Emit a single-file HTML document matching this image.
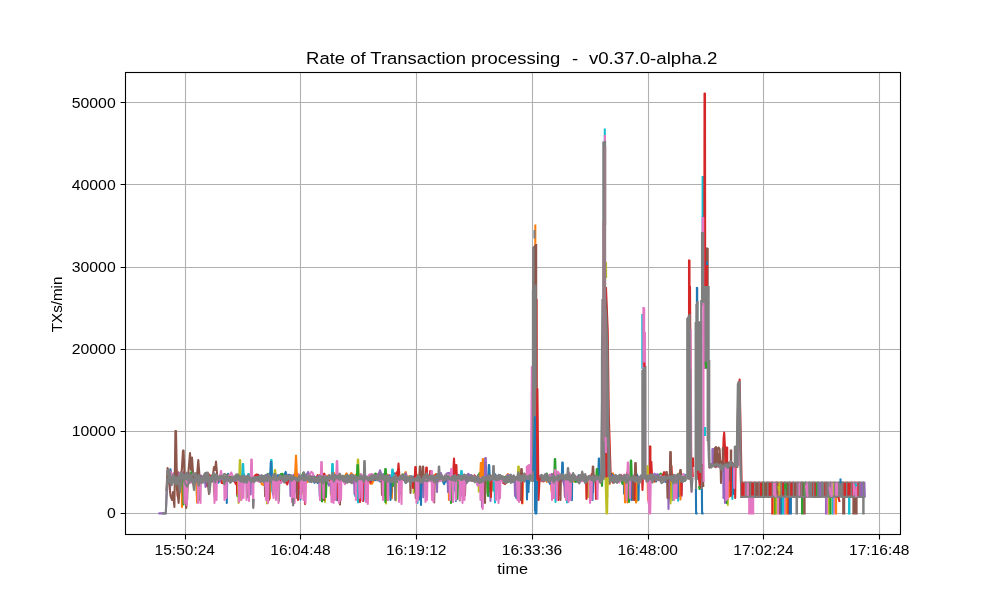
<!DOCTYPE html>
<html lang="en"><head><meta charset="utf-8"><title>Rate of Transaction processing</title>
<style>html,body{margin:0;padding:0;background:#fff;overflow:hidden}svg{display:block;will-change:transform}svg text{font-family:"Liberation Sans",sans-serif}</style>
</head><body>
<svg width="1000" height="600" viewBox="0 0 1000 600" fill="#000">
<rect width="1000" height="600" fill="#fff"/>
<defs><clipPath id="ax"><rect x="125.5" y="72.5" width="775.0" height="462.0"/></clipPath></defs>
<path d="M185.5 72.5V534.5M300.5 72.5V534.5M416.5 72.5V534.5M532.5 72.5V534.5M648.5 72.5V534.5M763.5 72.5V534.5M879.5 72.5V534.5M125.5 513.5H900.5M125.5 431.5H900.5M125.5 349.5H900.5M125.5 267.5H900.5M125.5 184.5H900.5M125.5 102.5H900.5" stroke="#b0b0b0" stroke-width="1.11" fill="none"/>
<g fill="none" stroke-width="2.08" stroke-linejoin="round" stroke-linecap="square" clip-path="url(#ax)">
<path stroke="#bcbd22" d="M199.2 478.4L199.6 494.4L199.9 478.4M213.7 478.4L214.0 492.7L214.2 478.4M239.8 478.4L240.0 500.2L240.2 478.4M273.2 478.4L273.7 494.3L274.1 478.4M302.1 478.4L302.4 493.6L302.7 478.4M299.3 478.4L299.6 494.1L300.0 478.4M330.6 478.4L330.8 494.5L331.1 478.4M331.7 478.4L332.1 494.1L332.5 478.4M366.6 478.4L367.0 496.3L367.3 478.4M387.3 478.4L387.5 491.0L387.7 478.4M395.7 478.4L395.9 500.5L396.2 478.4M426.3 478.4L426.6 493.1L426.9 478.4M425.4 478.4L425.7 494.5L425.9 478.4M413.4 478.4L413.7 493.0L414.0 478.4M453.3 478.4L453.6 490.9L454.0 478.4M491.4 478.4L491.9 490.3L492.4 478.4M498.8 478.4L499.3 491.4L499.7 478.4M478.6 478.4L478.8 491.7L479.0 478.4M517.4 478.4L517.8 494.5L518.1 478.4M586.7 478.4L586.9 497.5L587.1 478.4M596.5 478.4L596.8 492.0L597.2 478.4M589.1 478.4L589.5 490.9L590.0 478.4M636.7 478.4L637.2 500.9L637.7 478.4M626.3 478.4L626.7 500.4L627.1 478.4M678.0 478.4L678.2 497.1L678.4 478.4M671.9 478.4L672.2 500.3L672.5 478.4"/>
<path stroke="#17becf" d="M246.6 478.4L246.9 493.5L247.2 478.4M248.4 478.4L248.9 494.3L249.3 478.4M272.0 478.4L272.3 491.6L272.7 478.4M290.8 478.4L291.2 492.3L291.6 478.4M291.5 478.4L291.7 495.6L292.0 478.4M320.0 478.4L320.2 500.1L320.5 478.4M360.9 478.4L361.2 498.0L361.5 478.4M354.7 478.4L355.1 496.0L355.6 478.4M363.1 478.4L363.6 500.9L364.1 478.4M391.0 478.4L391.4 496.8L391.9 478.4M420.2 478.4L420.6 496.9L421.0 478.4M419.4 478.4L419.7 499.8L420.0 478.4M450.6 478.4L451.1 499.9L451.5 478.4M454.8 478.4L455.1 490.4L455.5 478.4M461.0 478.4L461.4 494.8L461.8 478.4M493.5 478.4L493.9 490.7L494.3 478.4M489.0 478.4L489.5 496.4L489.9 478.4M551.7 478.4L552.2 497.5L552.7 478.4M589.2 478.4L589.6 495.1L589.9 478.4M628.8 478.4L629.2 501.0L629.6 478.4M678.0 478.4L678.2 500.8L678.4 478.4M677.5 478.4L677.8 492.8L678.1 478.4"/>
<path stroke="#1f77b4" d="M199.5 478.4L199.7 499.1L200.0 478.4M265.3 478.4L265.5 491.1L265.7 478.4M294.6 478.4L295.0 492.5L295.4 478.4M319.4 478.4L319.8 496.2L320.3 478.4M330.8 478.4L331.1 491.5L331.4 478.4M336.7 478.4L337.1 500.2L337.4 478.4M365.6 478.4L365.9 500.1L366.2 478.4M382.9 478.4L383.4 495.2L383.8 478.4M418.8 478.4L419.2 498.7L419.7 478.4M455.5 478.4L455.9 501.0L456.4 478.4M456.6 478.4L456.9 499.3L457.3 478.4M519.0 478.4L519.4 499.5L519.7 478.4M515.9 478.4L516.3 498.1L516.8 478.4M553.0 478.4L553.5 493.5L554.0 478.4M551.8 478.4L552.2 496.9L552.6 478.4M571.7 478.4L571.9 500.2L572.2 478.4M635.6 478.4L636.0 494.5L636.5 478.4M623.8 478.4L624.1 493.8L624.5 478.4M679.3 478.4L679.7 496.0L680.1 478.4"/>
<path stroke="#ff7f0e" d="M225.8 478.4L226.2 495.5L226.6 478.4M247.7 478.4L247.9 493.0L248.1 478.4M269.6 478.4L269.9 498.5L270.2 478.4M292.2 478.4L292.5 496.9L292.9 478.4M391.6 478.4L391.9 498.3L392.2 478.4M399.1 478.4L399.5 494.2L399.9 478.4M484.6 478.4L485.0 491.6L485.4 478.4M488.6 478.4L488.9 491.4L489.2 478.4M518.9 478.4L519.3 499.4L519.7 478.4M558.3 478.4L558.6 492.1L558.8 478.4M551.1 478.4L551.5 491.0L551.8 478.4M570.2 478.4L570.4 495.3L570.6 478.4"/>
<path stroke="#2ca02c" d="M196.4 478.4L196.9 495.9L197.3 478.4M237.2 478.4L237.4 496.2L237.6 478.4M278.5 478.4L278.9 500.7L279.3 478.4M321.7 478.4L322.2 500.2L322.7 478.4M399.6 478.4L399.8 494.0L400.1 478.4M384.7 478.4L385.2 494.7L385.6 478.4M415.0 478.4L415.2 491.5L415.4 478.4M456.9 478.4L457.2 498.7L457.5 478.4M459.3 478.4L459.8 500.5L460.2 478.4M490.8 478.4L491.2 492.2L491.5 478.4M485.0 478.4L485.4 493.9L485.8 478.4M520.7 478.4L521.2 497.7L521.6 478.4M669.6 478.4L670.0 500.0L670.4 478.4"/>
<path stroke="#d62728" d="M236.7 478.4L237.2 494.5L237.7 478.4M337.5 478.4L337.9 497.6L338.3 478.4M338.2 478.4L338.4 500.6L338.6 478.4M359.5 478.4L359.8 498.1L360.2 478.4M385.1 478.4L385.4 491.5L385.7 478.4M433.7 478.4L433.9 497.5L434.2 478.4M420.8 478.4L421.1 497.2L421.3 478.4M564.5 478.4L564.9 495.6L565.4 478.4M590.4 478.4L590.7 492.1L590.9 478.4M635.4 478.4L635.9 492.8L636.4 478.4M635.0 478.4L635.3 498.4L635.6 478.4M626.2 478.4L626.5 494.5L626.7 478.4"/>
<path stroke="#9467bd" d="M250.5 478.4L250.7 494.4L250.9 478.4M272.7 478.4L272.9 494.6L273.2 478.4M303.8 478.4L304.1 496.6L304.4 478.4M319.7 478.4L320.1 499.1L320.4 478.4M359.5 478.4L359.7 490.1L359.9 478.4M418.5 478.4L418.9 495.7L419.3 478.4M422.9 478.4L423.3 497.2L423.7 478.4M461.4 478.4L461.6 495.4L461.8 478.4M490.3 478.4L490.5 500.9L490.7 478.4M498.9 478.4L499.2 498.8L499.5 478.4M558.7 478.4L559.2 494.6L559.6 478.4M587.6 478.4L587.9 494.1L588.3 478.4M592.6 478.4L593.0 492.1L593.4 478.4M681.0 478.4L681.5 496.2L682.0 478.4"/>
<path stroke="#8c564b" d="M186.8 478.4L187.2 499.4L187.6 478.4M184.8 478.4L185.0 496.5L185.3 478.4M185.6 478.4L185.8 498.7L186.0 478.4M214.4 478.4L214.6 496.5L214.9 478.4M225.9 478.4L226.3 494.5L226.6 478.4M264.7 478.4L265.1 496.2L265.4 478.4M303.0 478.4L303.3 491.5L303.6 478.4M367.2 478.4L367.5 499.6L367.8 478.4M390.4 478.4L390.7 496.0L391.1 478.4M391.1 478.4L391.5 492.7L391.8 478.4M417.0 478.4L417.3 499.1L417.6 478.4M415.2 478.4L415.7 497.9L416.1 478.4M420.3 478.4L420.8 496.9L421.3 478.4M464.5 478.4L465.0 495.4L465.5 478.4M489.7 478.4L490.1 491.2L490.4 478.4M564.9 478.4L565.2 492.0L565.4 478.4M678.6 478.4L679.0 490.8L679.3 478.4"/>
<path stroke="#ff7f0e" d="M167.3 483.6L168.9 479.0L170.5 474.2L172.1 475.5L173.7 477.8L175.3 479.2L176.9 475.0L178.5 479.9L180.1 479.5L181.7 475.5L183.3 479.1L184.9 478.3L186.5 477.9L188.1 477.6L189.7 478.4L191.3 480.1L192.9 483.7L194.5 479.6L196.1 473.2L197.7 474.7L199.3 479.8L200.9 478.1L202.5 479.7L204.1 477.2L205.7 476.6L207.3 473.2L208.9 474.1L210.5 479.3L212.1 478.6L213.7 477.5L215.3 478.2L216.9 476.9L218.5 477.5L220.1 479.6L221.7 477.7L223.3 483.2L224.9 476.2L226.5 479.4L228.1 479.8L229.7 480.1L231.3 481.4L232.9 479.6L234.5 481.3L236.1 478.6L237.7 478.2L239.3 477.1L240.9 479.4L242.5 479.3L244.1 481.9L245.7 478.6L247.3 481.8L248.9 478.0L250.5 478.2L252.1 479.7L253.7 478.0L255.3 477.5L256.9 475.4L258.5 477.6L260.1 478.0L261.7 484.0L263.3 484.9L264.9 482.4L266.5 485.3L268.1 482.2L269.7 478.7L271.3 479.2L272.9 476.3L274.5 475.3L276.1 475.4L277.7 478.8L279.3 477.7L280.9 476.7L282.5 476.5L284.1 480.8L285.7 475.3L287.3 478.4L288.9 475.2L290.5 478.4L292.1 476.9L293.7 477.4L295.3 476.2L296.9 479.7L298.5 475.6L300.1 478.0L301.7 476.7L303.3 474.9L304.9 477.3L306.5 482.3L308.1 481.5L309.7 478.5L311.3 480.4L312.9 477.7L314.5 478.0L316.1 479.0L317.7 477.4L319.3 475.0L320.9 476.0L322.5 475.7L324.1 477.6L325.7 478.2L327.3 476.0L328.9 475.4L330.5 481.1L332.1 478.2L333.7 472.7L335.3 474.6L336.9 482.1L338.5 480.1L340.1 476.6L341.7 477.6L343.3 476.6L344.9 476.4L346.5 473.3L348.1 476.5L349.7 476.0L351.3 473.1L352.9 475.2L354.5 477.3L356.1 474.5L357.7 477.3L359.3 476.9L360.9 480.6L362.5 478.2L364.1 476.5L365.7 481.1L367.3 479.4L368.9 476.8L370.5 483.8L372.1 483.6L373.7 480.5L375.3 475.3L376.9 475.0L378.5 479.6L380.1 475.2L381.7 476.8L383.3 474.7L384.9 476.8L386.5 474.3L388.1 474.9L389.7 477.4L391.3 479.1L392.9 480.5L394.5 474.6L396.1 476.4L397.7 478.0L399.3 482.8L400.9 480.3L402.5 477.1L404.1 475.2L405.7 472.0L407.3 478.9L408.9 476.2L410.5 476.5L412.1 479.5L413.7 477.4L415.3 479.2L416.9 474.8L418.5 478.3L420.1 478.2L421.7 476.6L423.3 476.2L424.9 475.2L426.5 478.6L428.1 479.4L429.7 478.7L431.3 479.4L432.9 477.6L434.5 475.3L436.1 474.0L437.7 480.6L439.3 478.0L440.9 479.0L442.5 476.6L444.1 478.8L445.7 479.4L447.3 480.6L448.9 478.3L450.5 475.5L452.1 480.0L453.7 480.7L455.3 478.4L456.9 477.9L458.5 477.5L460.1 481.4L461.7 480.4L463.3 475.5L464.9 475.1L466.5 481.1L468.1 476.3L469.7 477.0L471.3 477.4L472.9 479.9L474.5 479.6L476.1 479.7L477.7 478.6L479.3 477.6L480.9 476.9L482.5 476.0L484.1 476.6L485.7 479.9L487.3 480.7L488.9 476.8L490.5 475.2L492.1 478.4L493.7 477.9L495.3 478.0L496.9 478.9L498.5 483.0L500.1 481.2L501.7 476.3L503.3 480.9L504.9 478.5L506.5 475.8L508.1 474.0L509.7 478.0L511.3 480.3L512.9 479.2L514.5 477.4L516.1 477.6L517.7 477.4L519.3 479.8L520.9 479.8L522.5 477.9L524.1 474.6L525.7 474.0L527.3 477.9L528.9 476.7L530.5 479.1M537.2 479.9L538.8 479.1L540.4 479.9L542.0 481.3L543.6 478.6L545.2 478.0L546.8 481.9L548.4 477.5L550.0 477.7L551.6 482.1L553.2 481.2L554.8 482.6L556.4 476.7L558.0 477.9L559.6 481.4L561.2 476.0L562.8 476.1L564.4 478.5L566.0 478.7L567.6 481.8L569.2 479.1L570.8 480.6L572.4 480.4L574.0 481.4L575.6 481.1L577.2 479.6L578.8 480.1L580.4 478.3L582.0 478.6L583.6 474.5L585.2 475.8L586.8 477.6L588.4 479.8L590.0 480.8L591.6 479.3L593.2 476.8L594.8 480.2L596.4 479.2L598.0 479.0L599.6 480.6L601.2 474.5M606.5 478.9L608.1 481.2L609.7 484.0L611.3 478.1L612.9 473.3L614.5 477.9L616.1 479.1L617.7 479.1L619.3 478.0L620.9 476.5L622.5 480.1L624.1 479.2L625.7 481.8L627.3 476.9L628.9 479.7L630.5 477.3L632.1 479.5L633.7 480.0L635.3 477.2L636.9 476.5L638.5 479.2L640.1 478.9M646.5 478.9L648.1 480.7L649.7 481.1L651.3 477.9L652.9 477.8L654.5 481.9L656.1 479.3L657.7 476.6L659.3 478.6L660.9 480.6L662.5 476.5L664.1 476.3L665.7 477.6L667.3 481.0L668.9 477.9L670.5 479.3L672.1 477.6L673.7 477.8L675.3 478.2L676.9 477.1L678.5 473.6L680.1 475.4L681.7 478.9L683.3 478.9L684.9 479.6"/>
<path stroke="#1f77b4" d="M167.3 481.6L168.9 479.9L170.5 469.4L172.1 478.6L173.7 480.8L175.3 473.0L176.9 481.4L178.5 480.5L180.1 478.7L181.7 480.6L183.3 479.9L184.9 479.3L186.5 478.5L188.1 476.7L189.7 478.7L191.3 475.3L192.9 480.7L194.5 480.4L196.1 475.7L197.7 479.1L199.3 481.8L200.9 477.0L202.5 479.3L204.1 482.5L205.7 475.2L207.3 476.7L208.9 480.6L210.5 480.0L212.1 481.5L213.7 477.0L215.3 477.4L216.9 479.6L218.5 482.7L220.1 478.3L221.7 479.5L223.3 478.4L224.9 476.9L226.5 476.1L228.1 473.8L229.7 477.9L231.3 481.1L232.9 477.7L234.5 481.4L236.1 478.5L237.7 477.4L239.3 476.4L240.9 476.8L242.5 477.3L244.1 474.6L245.7 480.3L247.3 482.4L248.9 479.7L250.5 478.2L252.1 481.6L253.7 479.2L255.3 479.0L256.9 476.9L258.5 474.9L260.1 479.6L261.7 478.2L263.3 477.1L264.9 480.3L266.5 479.2L268.1 479.2L269.7 477.4L271.3 477.3L272.9 480.0L274.5 481.9L276.1 477.9L277.7 475.3L279.3 475.3L280.9 476.1L282.5 476.2L284.1 475.7L285.7 471.9L287.3 477.8L288.9 474.7L290.5 475.4L292.1 479.3L293.7 479.3L295.3 478.5L296.9 476.9L298.5 475.8L300.1 480.0L301.7 479.1L303.3 473.1L304.9 480.6L306.5 477.3L308.1 479.2L309.7 481.4L311.3 479.6L312.9 480.4L314.5 482.7L316.1 480.4L317.7 482.9L319.3 479.4L320.9 475.0L322.5 479.0L324.1 481.9L325.7 476.8L327.3 478.1L328.9 476.7L330.5 477.4L332.1 476.9L333.7 474.8L335.3 476.4L336.9 478.6L338.5 480.0L340.1 475.5L341.7 477.4L343.3 477.7L344.9 479.1L346.5 476.2L348.1 475.7L349.7 478.1L351.3 478.9L352.9 477.4L354.5 479.1L356.1 479.9L357.7 479.7L359.3 481.2L360.9 479.0L362.5 482.4L364.1 480.7L365.7 481.1L367.3 477.7L368.9 479.3L370.5 478.2L372.1 479.7L373.7 478.7L375.3 480.1L376.9 478.1L378.5 480.0L380.1 481.5L381.7 477.6L383.3 474.3L384.9 479.5L386.5 478.1L388.1 478.6L389.7 476.0L391.3 477.5L392.9 472.3L394.5 473.7L396.1 478.3L397.7 477.5L399.3 475.8L400.9 476.7L402.5 478.7L404.1 479.9L405.7 482.8L407.3 477.3L408.9 478.2L410.5 476.5L412.1 477.9L413.7 477.1L415.3 474.9L416.9 476.9L418.5 477.6L420.1 482.0L421.7 479.1L423.3 475.2L424.9 478.3L426.5 478.2L428.1 480.0L429.7 479.0L431.3 479.4L432.9 479.9L434.5 479.3L436.1 478.5L437.7 477.7L439.3 475.1L440.9 476.7L442.5 480.5L444.1 484.2L445.7 479.7L447.3 482.0L448.9 483.9L450.5 477.0L452.1 479.0L453.7 480.8L455.3 480.7L456.9 480.1L458.5 474.9L460.1 479.9L461.7 479.3L463.3 479.8L464.9 477.9L466.5 478.6L468.1 479.9L469.7 478.7L471.3 475.9L472.9 476.4L474.5 478.6L476.1 478.7L477.7 485.0L479.3 480.6L480.9 482.6L482.5 484.2L484.1 482.5L485.7 477.2L487.3 478.7L488.9 480.8L490.5 481.2L492.1 479.0L493.7 476.7L495.3 474.4L496.9 478.7L498.5 481.1L500.1 475.3L501.7 478.2L503.3 482.9L504.9 482.7L506.5 479.3L508.1 479.0L509.7 478.2L511.3 479.8L512.9 477.7L514.5 481.9L516.1 480.0L517.7 477.8L519.3 476.3L520.9 474.5L522.5 476.6L524.1 477.5L525.7 475.5L527.3 474.9L528.9 478.2L530.5 479.3M537.2 481.1L538.8 480.1L540.4 478.9L542.0 477.5L543.6 478.6L545.2 478.1L546.8 478.3L548.4 480.1L550.0 483.9L551.6 480.0L553.2 476.4L554.8 476.4L556.4 476.1L558.0 474.3L559.6 478.1L561.2 474.7L562.8 477.1L564.4 477.5L566.0 476.1L567.6 477.2L569.2 479.4L570.8 482.9L572.4 479.0L574.0 479.4L575.6 478.2L577.2 478.0L578.8 475.1L580.4 476.8L582.0 480.7L583.6 478.2L585.2 482.6L586.8 481.3L588.4 479.6L590.0 479.6L591.6 478.0L593.2 476.9L594.8 478.2L596.4 478.9L598.0 478.2L599.6 480.1L601.2 477.6M606.5 478.4L608.1 477.1L609.7 477.9L611.3 473.9L612.9 476.0L614.5 477.9L616.1 481.1L617.7 479.9L619.3 476.1L620.9 478.5L622.5 477.9L624.1 480.0L625.7 482.8L627.3 479.9L628.9 479.0L630.5 482.6L632.1 477.5L633.7 478.1L635.3 479.4L636.9 474.6L638.5 478.3L640.1 478.5M646.5 481.2L648.1 482.6L649.7 479.9L651.3 479.0L652.9 476.9L654.5 475.7L656.1 481.4L657.7 477.3L659.3 475.5L660.9 478.1L662.5 477.0L664.1 476.4L665.7 482.0L667.3 477.5L668.9 480.6L670.5 479.5L672.1 482.3L673.7 478.9L675.3 477.8L676.9 480.8L678.5 477.8L680.1 479.1L681.7 478.4L683.3 478.2L684.9 475.0"/>
<path stroke="#2ca02c" d="M167.3 480.6L168.9 476.6L170.5 476.9L172.1 474.5L173.7 482.2L175.3 477.0L176.9 489.5L178.5 488.1L180.1 482.3L181.7 487.7L183.3 487.6L184.9 483.8L186.5 480.1L188.1 476.4L189.7 476.7L191.3 472.1L192.9 476.9L194.5 481.4L196.1 480.6L197.7 481.8L199.3 483.7L200.9 481.5L202.5 477.1L204.1 482.5L205.7 479.0L207.3 484.4L208.9 484.4L210.5 478.7L212.1 480.4L213.7 475.8L215.3 475.3L216.9 476.3L218.5 477.3L220.1 479.2L221.7 477.5L223.3 478.3L224.9 478.4L226.5 478.0L228.1 474.8L229.7 477.5L231.3 476.6L232.9 477.2L234.5 476.7L236.1 477.6L237.7 475.4L239.3 477.9L240.9 478.3L242.5 474.5L244.1 477.8L245.7 478.6L247.3 483.1L248.9 482.1L250.5 481.5L252.1 482.3L253.7 481.7L255.3 476.4L256.9 478.4L258.5 478.5L260.1 480.8L261.7 478.0L263.3 476.1L264.9 475.8L266.5 475.0L268.1 473.9L269.7 478.5L271.3 477.9L272.9 483.5L274.5 480.9L276.1 481.4L277.7 478.0L279.3 480.1L280.9 474.0L282.5 473.8L284.1 476.2L285.7 478.8L287.3 478.2L288.9 477.9L290.5 480.8L292.1 479.5L293.7 477.4L295.3 476.8L296.9 476.8L298.5 477.4L300.1 475.8L301.7 476.2L303.3 473.0L304.9 474.9L306.5 476.8L308.1 478.4L309.7 479.9L311.3 478.9L312.9 476.7L314.5 478.5L316.1 478.9L317.7 480.7L319.3 476.5L320.9 478.1L322.5 479.6L324.1 476.2L325.7 476.7L327.3 478.4L328.9 476.3L330.5 478.9L332.1 478.5L333.7 479.6L335.3 479.1L336.9 479.3L338.5 480.3L340.1 476.7L341.7 481.1L343.3 479.2L344.9 476.4L346.5 475.8L348.1 478.6L349.7 481.9L351.3 479.3L352.9 475.5L354.5 477.1L356.1 476.9L357.7 476.2L359.3 479.2L360.9 478.9L362.5 479.0L364.1 478.4L365.7 478.3L367.3 479.0L368.9 477.5L370.5 474.9L372.1 478.3L373.7 476.1L375.3 473.5L376.9 474.7L378.5 474.2L380.1 476.1L381.7 477.3L383.3 479.5L384.9 478.5L386.5 476.5L388.1 476.8L389.7 476.6L391.3 476.9L392.9 480.1L394.5 480.0L396.1 480.5L397.7 481.9L399.3 480.9L400.9 477.0L402.5 474.4L404.1 475.0L405.7 482.1L407.3 480.0L408.9 479.9L410.5 480.3L412.1 478.3L413.7 479.4L415.3 481.2L416.9 478.8L418.5 477.6L420.1 481.3L421.7 477.3L423.3 474.8L424.9 476.4L426.5 480.5L428.1 477.2L429.7 477.9L431.3 477.1L432.9 475.3L434.5 478.1L436.1 477.7L437.7 480.1L439.3 479.0L440.9 476.6L442.5 477.0L444.1 479.8L445.7 478.5L447.3 480.2L448.9 481.5L450.5 479.1L452.1 478.8L453.7 478.3L455.3 474.7L456.9 478.8L458.5 482.2L460.1 480.4L461.7 480.3L463.3 478.7L464.9 477.6L466.5 475.3L468.1 474.7L469.7 476.8L471.3 475.2L472.9 476.9L474.5 481.2L476.1 478.6L477.7 479.3L479.3 473.5L480.9 472.8L482.5 473.9L484.1 475.0L485.7 476.6L487.3 477.5L488.9 482.2L490.5 478.9L492.1 476.6L493.7 475.4L495.3 477.7L496.9 477.4L498.5 479.0L500.1 476.1L501.7 478.1L503.3 478.0L504.9 477.0L506.5 481.7L508.1 481.9L509.7 476.4L511.3 479.1L512.9 479.6L514.5 478.5L516.1 479.7L517.7 477.1L519.3 479.0L520.9 474.4L522.5 478.5L524.1 475.4L525.7 476.7L527.3 477.3L528.9 483.5L530.5 478.3M537.2 476.9L538.8 477.7L540.4 476.7L542.0 478.3L543.6 478.3L545.2 479.3L546.8 473.5L548.4 479.1L550.0 478.9L551.6 477.0L553.2 478.7L554.8 477.9L556.4 480.1L558.0 476.7L559.6 474.8L561.2 474.9L562.8 473.7L564.4 477.2L566.0 477.0L567.6 480.7L569.2 478.6L570.8 477.5L572.4 477.6L574.0 478.3L575.6 482.0L577.2 481.1L578.8 479.4L580.4 479.3L582.0 480.0L583.6 480.2L585.2 481.8L586.8 481.6L588.4 480.7L590.0 482.0L591.6 482.2L593.2 480.5L594.8 476.4L596.4 479.2L598.0 478.3L599.6 478.1L601.2 477.0M606.5 476.8L608.1 474.4L609.7 479.9L611.3 477.5L612.9 479.9L614.5 476.9L616.1 478.2L617.7 477.7L619.3 477.5L620.9 478.9L622.5 484.0L624.1 481.3L625.7 482.3L627.3 481.8L628.9 476.4L630.5 476.4L632.1 475.8L633.7 477.8L635.3 477.7L636.9 479.1L638.5 477.7L640.1 479.7M646.5 478.1L648.1 479.3L649.7 473.8L651.3 474.4L652.9 476.7L654.5 476.6L656.1 477.6L657.7 475.0L659.3 474.9L660.9 473.7L662.5 475.9L664.1 476.6L665.7 474.6L667.3 474.9L668.9 475.6L670.5 474.7L672.1 478.8L673.7 474.7L675.3 478.8L676.9 475.4L678.5 474.3L680.1 479.3L681.7 477.9L683.3 480.3L684.9 480.7"/>
<path stroke="#d62728" d="M167.3 480.9L168.9 482.4L170.5 482.5L172.1 480.6L173.7 477.7L175.3 475.8L176.9 478.4L178.5 472.4L180.1 483.7L181.7 480.9L183.3 478.5L184.9 478.6L186.5 476.0L188.1 479.7L189.7 474.8L191.3 475.6L192.9 481.7L194.5 476.0L196.1 475.8L197.7 472.8L199.3 475.5L200.9 478.6L202.5 476.5L204.1 478.5L205.7 473.0L207.3 473.8L208.9 474.9L210.5 475.7L212.1 480.6L213.7 478.6L215.3 481.2L216.9 477.6L218.5 480.6L220.1 476.6L221.7 483.0L223.3 483.3L224.9 482.1L226.5 477.8L228.1 480.9L229.7 476.9L231.3 479.8L232.9 478.3L234.5 481.4L236.1 484.1L237.7 481.2L239.3 478.1L240.9 479.7L242.5 482.6L244.1 478.4L245.7 477.2L247.3 476.7L248.9 474.3L250.5 477.6L252.1 478.5L253.7 477.6L255.3 475.3L256.9 474.5L258.5 475.5L260.1 478.8L261.7 475.9L263.3 478.2L264.9 479.3L266.5 480.4L268.1 476.3L269.7 480.7L271.3 476.2L272.9 476.7L274.5 476.6L276.1 479.0L277.7 480.7L279.3 480.2L280.9 481.7L282.5 477.7L284.1 479.0L285.7 481.9L287.3 484.3L288.9 478.9L290.5 480.2L292.1 479.8L293.7 476.5L295.3 474.9L296.9 476.2L298.5 477.8L300.1 483.1L301.7 478.6L303.3 481.2L304.9 477.8L306.5 476.9L308.1 479.0L309.7 478.8L311.3 476.3L312.9 477.2L314.5 478.2L316.1 477.9L317.7 475.2L319.3 477.8L320.9 476.4L322.5 475.4L324.1 473.6L325.7 476.2L327.3 477.6L328.9 480.4L330.5 480.1L332.1 477.5L333.7 478.5L335.3 477.3L336.9 478.3L338.5 482.1L340.1 478.4L341.7 477.6L343.3 478.1L344.9 481.3L346.5 478.5L348.1 479.0L349.7 481.7L351.3 482.0L352.9 482.6L354.5 482.5L356.1 479.0L357.7 481.2L359.3 481.1L360.9 481.0L362.5 480.8L364.1 481.7L365.7 480.6L367.3 480.2L368.9 479.3L370.5 482.6L372.1 477.7L373.7 479.3L375.3 477.7L376.9 478.1L378.5 474.2L380.1 478.6L381.7 477.5L383.3 477.0L384.9 480.3L386.5 478.7L388.1 480.0L389.7 479.7L391.3 481.6L392.9 485.4L394.5 478.2L396.1 473.2L397.7 471.5L399.3 478.9L400.9 478.0L402.5 479.2L404.1 480.1L405.7 480.5L407.3 478.1L408.9 479.4L410.5 477.5L412.1 478.6L413.7 479.4L415.3 480.4L416.9 480.2L418.5 477.7L420.1 479.7L421.7 478.4L423.3 475.1L424.9 480.0L426.5 478.0L428.1 476.4L429.7 476.3L431.3 477.6L432.9 477.8L434.5 477.9L436.1 474.7L437.7 477.3L439.3 480.0L440.9 479.4L442.5 476.7L444.1 478.7L445.7 479.6L447.3 476.1L448.9 475.8L450.5 477.7L452.1 479.0L453.7 480.7L455.3 478.1L456.9 479.6L458.5 479.5L460.1 478.1L461.7 482.1L463.3 480.1L464.9 479.7L466.5 478.4L468.1 477.5L469.7 477.1L471.3 478.5L472.9 480.8L474.5 475.2L476.1 479.0L477.7 478.7L479.3 477.8L480.9 479.0L482.5 478.5L484.1 477.5L485.7 481.3L487.3 478.6L488.9 474.6L490.5 476.5L492.1 477.0L493.7 478.3L495.3 477.7L496.9 476.7L498.5 477.9L500.1 478.0L501.7 479.2L503.3 482.9L504.9 484.0L506.5 482.7L508.1 479.3L509.7 479.0L511.3 477.6L512.9 478.8L514.5 477.8L516.1 480.5L517.7 476.4L519.3 476.3L520.9 479.1L522.5 478.0L524.1 477.1L525.7 477.7L527.3 476.7L528.9 477.7L530.5 474.7M537.2 476.1L538.8 477.8L540.4 480.1L542.0 480.4L543.6 481.5L545.2 478.1L546.8 478.6L548.4 479.0L550.0 474.8L551.6 477.0L553.2 474.1L554.8 472.7L556.4 474.6L558.0 478.0L559.6 479.9L561.2 479.9L562.8 480.8L564.4 481.3L566.0 479.1L567.6 479.2L569.2 483.5L570.8 478.5L572.4 478.6L574.0 477.3L575.6 476.7L577.2 477.0L578.8 477.2L580.4 475.7L582.0 474.3L583.6 477.9L585.2 478.1L586.8 477.6L588.4 477.3L590.0 481.2L591.6 474.2L593.2 474.9L594.8 476.9L596.4 481.5L598.0 480.2L599.6 479.9L601.2 482.7M606.5 477.0L608.1 479.0L609.7 476.5L611.3 478.0L612.9 482.7L614.5 481.8L616.1 477.7L617.7 478.9L619.3 477.1L620.9 475.0L622.5 476.6L624.1 477.7L625.7 479.0L627.3 472.4L628.9 476.5L630.5 478.2L632.1 479.3L633.7 481.2L635.3 478.8L636.9 478.4L638.5 477.4L640.1 480.0M646.5 478.5L648.1 477.6L649.7 480.2L651.3 476.7L652.9 479.2L654.5 480.9L656.1 478.9L657.7 478.0L659.3 480.2L660.9 477.6L662.5 476.2L664.1 472.2L665.7 476.4L667.3 477.1L668.9 478.7L670.5 480.1L672.1 482.7L673.7 480.5L675.3 482.3L676.9 477.9L678.5 477.8L680.1 477.4L681.7 479.0L683.3 476.6L684.9 478.2M709.5 463.8L711.0 465.1L712.5 463.7L714.0 463.7L715.5 464.6L717.0 463.6L718.5 463.5L720.0 460.4L721.5 462.4L723.0 466.2L724.5 464.2L726.0 465.8L727.5 464.1L729.0 463.0L730.5 463.6L732.0 462.7L733.5 465.4L735.0 466.2L736.5 466.6"/>
<path stroke="#9467bd" d="M167.3 479.9L168.9 483.2L170.5 479.0L172.1 480.2L173.7 478.0L175.3 477.9L176.9 474.6L178.5 473.3L180.1 481.4L181.7 479.5L183.3 472.4L184.9 475.5L186.5 479.7L188.1 475.9L189.7 483.0L191.3 480.8L192.9 482.9L194.5 481.4L196.1 475.3L197.7 473.0L199.3 478.0L200.9 475.5L202.5 479.4L204.1 478.3L205.7 481.4L207.3 477.8L208.9 477.1L210.5 478.1L212.1 480.0L213.7 480.0L215.3 480.2L216.9 482.1L218.5 479.3L220.1 480.7L221.7 476.9L223.3 476.9L224.9 479.6L226.5 476.4L228.1 478.1L229.7 480.1L231.3 480.6L232.9 478.9L234.5 477.5L236.1 480.9L237.7 478.4L239.3 477.7L240.9 479.9L242.5 481.7L244.1 480.8L245.7 480.3L247.3 481.1L248.9 482.2L250.5 481.2L252.1 477.8L253.7 478.1L255.3 480.0L256.9 478.5L258.5 477.3L260.1 477.7L261.7 475.1L263.3 479.6L264.9 481.3L266.5 474.8L268.1 477.0L269.7 473.4L271.3 479.9L272.9 480.4L274.5 485.3L276.1 485.7L277.7 481.7L279.3 483.3L280.9 482.0L282.5 481.3L284.1 478.7L285.7 476.0L287.3 475.2L288.9 478.1L290.5 477.7L292.1 479.5L293.7 474.7L295.3 478.1L296.9 479.3L298.5 481.5L300.1 478.4L301.7 476.5L303.3 479.1L304.9 478.3L306.5 474.9L308.1 471.9L309.7 475.6L311.3 479.2L312.9 475.8L314.5 477.1L316.1 480.1L317.7 476.6L319.3 475.7L320.9 478.2L322.5 479.1L324.1 478.7L325.7 482.6L327.3 481.6L328.9 485.6L330.5 482.7L332.1 482.6L333.7 479.4L335.3 478.1L336.9 475.7L338.5 475.3L340.1 475.9L341.7 479.4L343.3 478.3L344.9 481.9L346.5 477.6L348.1 479.2L349.7 478.9L351.3 474.7L352.9 475.3L354.5 478.9L356.1 478.9L357.7 476.2L359.3 478.4L360.9 477.2L362.5 475.5L364.1 479.0L365.7 478.6L367.3 479.0L368.9 477.4L370.5 479.2L372.1 479.0L373.7 478.4L375.3 476.7L376.9 476.1L378.5 474.4L380.1 470.3L381.7 475.3L383.3 474.9L384.9 476.4L386.5 480.7L388.1 476.9L389.7 475.0L391.3 477.7L392.9 480.0L394.5 474.7L396.1 479.6L397.7 479.2L399.3 480.9L400.9 477.4L402.5 478.3L404.1 479.2L405.7 473.3L407.3 479.1L408.9 479.7L410.5 478.9L412.1 477.1L413.7 480.5L415.3 478.3L416.9 479.0L418.5 481.0L420.1 480.3L421.7 477.3L423.3 478.8L424.9 476.5L426.5 478.7L428.1 479.0L429.7 480.0L431.3 479.4L432.9 476.0L434.5 478.6L436.1 477.7L437.7 475.2L439.3 477.0L440.9 472.9L442.5 478.8L444.1 480.4L445.7 475.0L447.3 473.3L448.9 472.9L450.5 475.1L452.1 475.9L453.7 477.9L455.3 482.5L456.9 476.8L458.5 478.4L460.1 480.6L461.7 481.3L463.3 477.8L464.9 482.3L466.5 483.3L468.1 473.8L469.7 474.9L471.3 475.4L472.9 477.7L474.5 476.7L476.1 476.8L477.7 479.4L479.3 481.9L480.9 477.0L482.5 474.8L484.1 477.6L485.7 478.3L487.3 475.6L488.9 478.1L490.5 479.0L492.1 478.1L493.7 479.1L495.3 477.9L496.9 475.8L498.5 479.6L500.1 480.3L501.7 477.9L503.3 478.0L504.9 480.1L506.5 478.5L508.1 474.7L509.7 476.9L511.3 480.3L512.9 478.5L514.5 479.8L516.1 479.7L517.7 478.0L519.3 476.2L520.9 478.5L522.5 479.2L524.1 481.4L525.7 480.5L527.3 474.3L528.9 477.1L530.5 476.3M537.2 476.7L538.8 477.9L540.4 479.6L542.0 480.7L543.6 478.6L545.2 477.4L546.8 477.9L548.4 477.7L550.0 478.9L551.6 474.0L553.2 479.4L554.8 476.7L556.4 477.7L558.0 480.6L559.6 476.1L561.2 480.2L562.8 479.3L564.4 485.7L566.0 476.2L567.6 477.1L569.2 482.5L570.8 478.6L572.4 478.9L574.0 478.9L575.6 478.2L577.2 479.5L578.8 478.4L580.4 481.3L582.0 480.8L583.6 478.6L585.2 478.1L586.8 478.2L588.4 479.3L590.0 483.8L591.6 477.0L593.2 477.7L594.8 478.8L596.4 479.0L598.0 480.5L599.6 479.0L601.2 481.4M606.5 475.2L608.1 474.1L609.7 476.6L611.3 481.0L612.9 476.6L614.5 477.7L616.1 480.1L617.7 480.9L619.3 477.8L620.9 479.0L622.5 477.3L624.1 479.4L625.7 481.5L627.3 483.3L628.9 481.7L630.5 480.0L632.1 477.2L633.7 479.5L635.3 480.2L636.9 479.2L638.5 476.9L640.1 479.4M646.5 477.3L648.1 478.6L649.7 479.2L651.3 476.0L652.9 477.2L654.5 473.7L656.1 475.0L657.7 474.3L659.3 478.2L660.9 477.4L662.5 479.5L664.1 481.5L665.7 478.0L667.3 480.0L668.9 478.7L670.5 475.6L672.1 475.3L673.7 475.8L675.3 477.4L676.9 476.9L678.5 480.9L680.1 478.6L681.7 480.4L683.3 476.6L684.9 478.2M159.5 513.4L165.8 513.4L167.3 478.4M709.5 466.1L711.0 464.9L712.5 465.1L714.0 462.7L715.5 463.3L717.0 462.0L718.5 465.6L720.0 465.8L721.5 463.4L723.0 463.9L724.5 466.5L726.0 463.9L727.5 463.0L729.0 463.6L730.5 463.8L732.0 465.9L733.5 464.2L735.0 464.5L736.5 463.1"/>
<path stroke="#e377c2" d="M167.3 481.6L168.9 478.1L170.5 471.6L172.1 476.4L173.7 473.0L175.3 477.4L176.9 477.4L178.5 477.4L180.1 473.6L181.7 472.6L183.3 478.1L184.9 481.9L186.5 473.5L188.1 477.3L189.7 483.2L191.3 478.3L192.9 482.6L194.5 483.6L196.1 479.2L197.7 479.8L199.3 481.6L200.9 478.9L202.5 480.0L204.1 481.7L205.7 482.2L207.3 479.3L208.9 480.5L210.5 481.4L212.1 476.5L213.7 477.9L215.3 478.1L216.9 478.8L218.5 477.5L220.1 474.9L221.7 476.6L223.3 477.9L224.9 480.1L226.5 478.3L228.1 475.7L229.7 475.2L231.3 472.5L232.9 477.1L234.5 479.4L236.1 477.8L237.7 480.1L239.3 479.2L240.9 475.5L242.5 473.8L244.1 477.7L245.7 477.0L247.3 477.7L248.9 478.4L250.5 476.7L252.1 476.0L253.7 477.8L255.3 477.8L256.9 480.6L258.5 481.5L260.1 481.8L261.7 480.4L263.3 478.9L264.9 482.0L266.5 481.1L268.1 480.2L269.7 475.4L271.3 478.3L272.9 480.7L274.5 478.9L276.1 479.9L277.7 480.5L279.3 482.6L280.9 482.9L282.5 479.8L284.1 476.7L285.7 476.4L287.3 478.0L288.9 477.5L290.5 475.5L292.1 478.6L293.7 479.9L295.3 478.4L296.9 475.6L298.5 474.0L300.1 476.5L301.7 480.0L303.3 481.2L304.9 481.2L306.5 479.9L308.1 479.8L309.7 475.1L311.3 471.8L312.9 473.2L314.5 479.2L316.1 479.8L317.7 478.8L319.3 479.3L320.9 477.9L322.5 479.9L324.1 479.5L325.7 475.5L327.3 480.6L328.9 478.5L330.5 479.3L332.1 476.5L333.7 476.5L335.3 475.6L336.9 482.1L338.5 480.0L340.1 480.8L341.7 479.4L343.3 480.4L344.9 484.2L346.5 479.9L348.1 479.3L349.7 478.5L351.3 482.6L352.9 481.5L354.5 481.6L356.1 480.3L357.7 481.4L359.3 474.8L360.9 474.0L362.5 478.6L364.1 481.9L365.7 484.0L367.3 477.9L368.9 475.0L370.5 474.3L372.1 474.0L373.7 477.9L375.3 476.7L376.9 475.7L378.5 479.6L380.1 479.9L381.7 481.2L383.3 479.7L384.9 479.7L386.5 478.2L388.1 484.4L389.7 478.9L391.3 480.2L392.9 478.6L394.5 480.2L396.1 478.0L397.7 478.8L399.3 477.5L400.9 479.1L402.5 475.4L404.1 476.4L405.7 478.0L407.3 477.9L408.9 478.4L410.5 477.6L412.1 478.5L413.7 479.1L415.3 478.7L416.9 479.4L418.5 477.4L420.1 476.4L421.7 478.7L423.3 479.1L424.9 475.8L426.5 478.7L428.1 476.5L429.7 481.3L431.3 480.1L432.9 479.9L434.5 481.3L436.1 482.3L437.7 481.3L439.3 481.2L440.9 480.8L442.5 478.6L444.1 478.3L445.7 474.5L447.3 477.8L448.9 475.5L450.5 475.3L452.1 477.1L453.7 480.5L455.3 479.7L456.9 478.0L458.5 479.4L460.1 479.1L461.7 477.4L463.3 477.1L464.9 475.0L466.5 475.8L468.1 477.6L469.7 480.7L471.3 479.3L472.9 477.5L474.5 476.7L476.1 479.0L477.7 485.8L479.3 480.3L480.9 478.6L482.5 479.7L484.1 478.7L485.7 480.3L487.3 481.5L488.9 481.7L490.5 478.5L492.1 480.5L493.7 480.9L495.3 477.6L496.9 480.5L498.5 478.9L500.1 480.0L501.7 481.1L503.3 481.8L504.9 480.1L506.5 480.0L508.1 480.7L509.7 480.1L511.3 479.9L512.9 477.7L514.5 476.4L516.1 481.6L517.7 477.2L519.3 478.9L520.9 480.0L522.5 478.7L524.1 479.6L525.7 477.5L527.3 483.1L528.9 480.7L530.5 479.1M537.2 478.8L538.8 479.2L540.4 475.4L542.0 477.0L543.6 480.3L545.2 479.3L546.8 478.9L548.4 478.8L550.0 475.3L551.6 479.9L553.2 478.7L554.8 478.2L556.4 479.2L558.0 471.8L559.6 474.4L561.2 477.9L562.8 477.2L564.4 478.4L566.0 479.8L567.6 476.7L569.2 472.9L570.8 475.1L572.4 477.8L574.0 477.5L575.6 476.4L577.2 478.4L578.8 478.0L580.4 479.6L582.0 481.3L583.6 480.7L585.2 477.3L586.8 478.4L588.4 476.5L590.0 478.4L591.6 478.9L593.2 477.5L594.8 479.1L596.4 478.1L598.0 477.7L599.6 481.1L601.2 478.1M606.5 482.2L608.1 476.0L609.7 474.3L611.3 476.6L612.9 478.8L614.5 477.8L616.1 477.6L617.7 477.6L619.3 482.6L620.9 479.0L622.5 477.2L624.1 474.5L625.7 476.3L627.3 477.0L628.9 473.0L630.5 475.9L632.1 476.8L633.7 478.8L635.3 483.3L636.9 477.5L638.5 480.8L640.1 479.7M646.5 480.3L648.1 476.2L649.7 479.5L651.3 480.3L652.9 478.4L654.5 476.7L656.1 479.0L657.7 480.2L659.3 480.2L660.9 475.4L662.5 478.5L664.1 476.8L665.7 476.3L667.3 477.0L668.9 475.3L670.5 476.9L672.1 475.8L673.7 478.2L675.3 475.0L676.9 479.7L678.5 478.0L680.1 474.9L681.7 474.9L683.3 474.1L684.9 476.5M709.5 467.2L711.0 466.4L712.5 465.2L714.0 466.1L715.5 465.9L717.0 466.8L718.5 466.7L720.0 466.2L721.5 465.4L723.0 468.5L724.5 465.8L726.0 465.8L727.5 465.2L729.0 463.7L730.5 465.1L732.0 465.0L733.5 465.4L735.0 464.6L736.5 465.4"/>
<path stroke="#bcbd22" d="M239.2 478.4L239.8 460.0L240.2 460.0L240.8 478.4M238.2 478.4L238.5 503.0L238.8 478.4M266.6 478.4L267.0 503.5L267.4 478.4M274.2 478.4L274.8 470.0L275.2 470.0L275.8 478.4M273.1 478.4L273.5 491.0L273.9 478.4M324.6 478.4L325.0 502.0L325.4 478.4M357.2 478.4L357.8 459.5L358.2 459.5L358.8 478.4M385.6 478.4L386.0 503.5L386.4 478.4M517.8 478.4L518.2 466.5L518.8 466.5L519.2 478.4M517.6 478.4L518.0 498.0L518.4 478.4M588.1 478.4L588.5 497.0L588.9 478.4M646.4 478.4L647.6 466.0L648.8 478.4M670.1 478.4L670.5 503.5L670.9 478.4M606.0 263.0L606.1 277.0M727.4 465.0L727.8 505.0L728.1 465.0"/>
<path stroke="#17becf" d="M242.2 478.4L242.8 464.0L243.2 464.0L243.8 478.4M247.8 478.4L248.2 474.0L248.8 474.0L249.2 478.4M270.6 478.4L271.1 460.0L271.6 460.0L272.1 478.4M331.8 478.4L332.2 464.0L332.8 464.0L333.2 478.4M357.6 478.4L358.0 502.5L358.4 478.4M391.8 478.4L392.2 469.5L392.8 469.5L393.2 478.4M417.1 478.4L417.5 503.0L417.9 478.4M460.8 478.4L461.2 471.0L461.8 471.0L462.2 478.4M483.2 478.4L483.8 463.0L484.2 463.0L484.8 478.4M494.6 478.4L495.0 502.5L495.4 478.4M555.1 478.4L555.5 502.0L555.9 478.4M566.6 478.4L567.0 502.5L567.4 478.4M673.1 478.4L673.5 500.0L673.9 478.4M604.8 129.6L604.8 478.4M642.3 315.0L642.3 368.0M702.6 177.0L702.6 300.0M703.0 177.0L703.0 300.0M732.0 465.0L732.4 499.0L732.8 465.0"/>
<path stroke="#1f77b4" d="M226.5 478.4L226.8 503.0L227.2 478.4M214.7 478.4L215.0 499.0L215.3 478.4M270.2 478.4L270.8 462.0L271.2 462.0L271.8 478.4M300.1 478.4L300.5 499.5L300.9 478.4M390.1 478.4L390.5 500.0L390.9 478.4M420.6 478.4L421.0 505.0L421.4 478.4M488.2 478.4L488.8 465.0L489.2 465.0L489.8 478.4M526.6 478.4L527.0 499.5L527.4 478.4M528.1 478.4L528.5 492.0L528.9 478.4M561.8 478.4L562.2 462.5L562.8 462.5L563.2 478.4M592.1 478.4L592.5 500.0L592.9 478.4M598.2 478.4L598.8 458.5L599.2 458.5L599.8 478.4M631.1 478.4L631.5 500.0L631.9 478.4M638.1 478.4L638.5 500.0L638.9 478.4M677.6 478.4L678.0 496.0L678.4 478.4M696.9 288.0L696.9 478.4M697.2 288.5L697.2 478.4M733.0 465.0L733.4 494.0L733.8 465.0M725.4 465.0L725.8 468.0L726.1 465.0"/>
<path stroke="#ff7f0e" d="M181.7 478.4L182.0 507.0L182.3 478.4M196.7 478.4L197.0 502.5L197.3 478.4M294.9 478.4L296.0 455.5L297.1 478.4M448.6 478.4L449.0 500.0L449.4 478.4M480.2 478.4L480.8 463.0L481.2 463.0L481.8 478.4M482.2 478.4L482.8 459.0L483.2 459.0L483.8 478.4M522.1 478.4L522.5 503.5L522.9 478.4M624.6 478.4L625.0 502.5L625.4 478.4M627.1 478.4L627.5 502.5L627.9 478.4M635.6 478.4L636.0 502.5L636.4 478.4M647.6 478.4L648.0 500.0L648.4 478.4M680.1 478.4L680.5 499.5L680.9 478.4M535.3 225.6L535.3 478.4M728.6 465.0L729.0 497.0L729.4 465.0"/>
<path stroke="#2ca02c" d="M183.2 478.4L183.5 504.5L183.8 478.4M247.2 478.4L247.5 497.0L247.8 478.4M199.7 478.4L200.0 500.0L200.3 478.4M321.6 478.4L322.0 501.5L322.4 478.4M325.6 478.4L326.0 497.0L326.4 478.4M356.9 478.4L357.4 465.0L357.9 465.0L358.4 478.4M384.8 478.4L385.2 469.0L385.8 469.0L386.2 478.4M384.9 478.4L385.3 502.0L385.7 478.4M392.6 478.4L393.0 486.0L393.4 478.4M394.1 478.4L394.5 484.0L394.9 478.4M450.6 478.4L451.0 503.0L451.4 478.4M487.6 478.4L488.0 496.0L488.4 478.4M554.2 478.4L554.8 459.0L555.2 459.0L555.8 478.4M596.2 478.4L596.8 469.0L597.2 469.0L597.8 478.4M601.6 478.4L602.0 486.0L602.4 478.4M630.2 478.4L630.8 460.5L631.2 460.5L631.8 478.4M628.6 478.4L629.0 502.0L629.4 478.4M726.1 465.0L726.5 503.0L726.9 465.0"/>
<path stroke="#d62728" d="M175.2 478.4L175.8 469.0L176.2 469.0L176.8 478.4M177.2 478.4L177.6 496.0L177.9 478.4M206.7 478.4L207.0 486.0L207.3 478.4M297.6 478.4L298.0 500.0L298.4 478.4M304.6 478.4L305.0 504.0L305.4 478.4M299.1 478.4L299.5 488.0L299.9 478.4M359.6 478.4L360.0 502.0L360.4 478.4M362.6 478.4L363.0 501.0L363.4 478.4M397.4 478.4L398.5 463.5L399.6 478.4M412.6 478.4L413.0 488.0L413.4 478.4M414.8 478.4L415.2 467.0L415.8 467.0L416.2 478.4M425.8 478.4L426.2 467.5L426.8 467.5L427.2 478.4M429.8 478.4L430.2 471.0L430.8 471.0L431.2 478.4M452.9 478.4L454.0 458.5L455.1 478.4M490.6 478.4L491.0 497.0L491.4 478.4M521.6 478.4L522.0 503.0L522.4 478.4M455.4 478.4L455.9 465.0L456.4 465.0L456.9 478.4M558.1 478.4L558.5 500.0L558.9 478.4M586.1 478.4L586.5 499.0L586.9 478.4M595.6 478.4L596.0 499.0L596.4 478.4M634.1 478.4L634.5 500.0L634.9 478.4M642.1 478.4L642.5 490.0L642.9 478.4M668.6 478.4L669.0 498.0L669.4 478.4M670.5 478.4L671.0 466.0L671.5 466.0L672.0 478.4M681.1 478.4L681.5 495.0L681.9 478.4M650.0 446.5L650.0 478.4M650.4 447.0L650.4 478.4M651.3 462.0L652.2 478.4M536.6 300.0L536.9 478.4M606.0 288.0L607.7 330.0L608.8 415.0L610.7 476.0M689.0 260.5L689.0 478.4M689.5 261.0L689.5 478.4M690.0 287.0L691.2 478.4M704.3 300.0L704.5 93.6L705.0 93.6L705.2 300.0M692.0 461.0L692.8 476.0M722.8 465.0L723.6 438.0L724.2 432.5L725.0 448.0L725.4 465.0M726.8 447.5L726.8 465.0M727.2 448.0L727.2 465.0M734.9 465.0L735.2 498.0L735.6 465.0M730.4 465.0L730.8 496.0L731.1 465.0M737.0 465.0L739.6 379.5L741.6 482.0"/>
<path stroke="#9467bd" d="M169.7 478.4L170.0 492.0L170.3 478.4M187.8 478.4L188.2 473.0L188.8 473.0L189.2 478.4M205.2 478.4L205.5 487.0L205.8 478.4M264.6 478.4L265.0 486.0L265.4 478.4M290.1 478.4L290.5 496.0L290.9 478.4M436.6 478.4L437.0 492.0L437.4 478.4M354.1 478.4L354.5 494.0L354.9 478.4M484.8 478.4L485.2 458.0L485.8 458.0L486.2 478.4M481.6 478.4L482.0 507.0L482.4 478.4M514.6 478.4L515.0 496.0L515.4 478.4M447.6 478.4L448.0 492.0L448.4 478.4M552.6 478.4L553.0 498.0L553.4 478.4M564.6 478.4L565.0 497.0L565.4 478.4M668.1 478.4L668.5 509.0L668.9 478.4M676.6 478.4L677.0 498.0L677.4 478.4M724.6 465.0L725.0 503.0L725.4 465.0M723.1 465.0L723.5 498.0L723.9 465.0M712.4 449.5L712.4 465.0M713.2 449.0L713.2 465.0"/>
<path stroke="#8c564b" d="M166.5 490.0L167.6 468.0L169.0 481.0L170.5 496.0L172.0 500.0L173.0 492.0L174.4 507.0L175.4 431.0L176.0 431.0L177.0 486.0L178.6 503.0L180.0 482.0L181.8 470.0L183.0 450.5L183.6 450.5L184.8 486.0L186.2 508.0L187.6 482.0L190.0 453.0L191.0 470.0L192.0 457.5L193.5 480.0L196.8 478.0L198.3 460.0L199.8 480.0L203.0 478.0L207.5 481.0L209.0 494.0L210.5 479.0L212.5 478.0L214.0 467.0L215.0 470.0L216.0 461.5L217.6 480.0M268.6 478.4L269.0 500.0L269.4 478.4M296.6 478.4L297.0 498.0L297.4 478.4M323.6 478.4L324.0 500.0L324.4 478.4M339.6 478.4L340.0 504.5L340.4 478.4M381.6 478.4L382.0 495.0L382.4 478.4M387.1 478.4L387.5 500.0L387.9 478.4M410.1 478.4L410.5 493.0L410.9 478.4M419.2 478.4L419.8 466.5L420.2 466.5L420.8 478.4M422.2 478.4L422.8 466.5L423.2 466.5L423.8 478.4M433.8 478.4L434.2 502.5L434.6 478.4M484.6 478.4L485.0 503.0L485.4 478.4M520.8 478.4L521.2 469.0L521.8 469.0L522.2 478.4M520.1 478.4L520.5 500.0L520.9 478.4M462.6 478.4L463.0 496.0L463.4 478.4M560.1 478.4L560.5 500.0L560.9 478.4M592.2 478.4L592.8 466.5L593.2 466.5L593.8 478.4M634.8 478.4L635.2 463.0L635.8 463.0L636.2 478.4M632.6 478.4L633.0 500.0L633.4 478.4M667.1 478.4L667.5 498.0L667.9 478.4M669.8 478.4L670.2 452.0L670.8 452.0L671.2 478.4M679.8 478.4L680.2 470.0L680.8 470.0L681.2 478.4M665.8 478.4L666.2 472.0L666.8 472.0L667.2 478.4M533.4 248.0L533.4 478.4M534.3 247.0L534.3 478.4M535.3 246.0L535.3 478.4M536.2 245.0L536.2 478.4M605.9 300.0L607.4 345.0L608.4 430.0L610.0 478.4M707.0 248.5L707.0 300.0M707.7 249.0L707.7 300.0M720.6 465.0L721.0 483.0L721.4 465.0M729.1 465.0L729.5 480.0L729.9 465.0M714.3 465.0L715.0 448.0L716.0 447.0L716.8 456.0L717.6 448.5L718.6 447.5L719.6 449.0L720.4 465.0M715.4 453.0L715.4 465.0M716.4 453.2L716.4 465.0M717.4 453.5L717.4 465.0M718.4 453.8L718.4 465.0M719.4 454.0L719.4 465.0M722.8 448.5L722.8 465.0M723.2 448.0L723.2 465.0M730.8 450.5L730.8 465.0M731.2 450.5L731.2 465.0M736.6 465.0L738.6 382.0L741.0 482.0"/>
<path stroke="#e377c2" d="M184.2 478.4L184.5 503.0L184.8 478.4M186.5 478.4L186.8 505.0L187.2 478.4M197.7 478.4L198.0 503.0L198.3 478.4M200.2 478.4L200.5 503.0L200.8 478.4M214.2 478.4L214.5 503.0L214.8 478.4M216.2 478.4L216.5 500.0L216.8 478.4M220.2 478.4L220.8 471.0L221.2 471.0L221.8 478.4M224.2 478.4L224.5 500.0L224.8 478.4M226.2 478.4L226.5 498.0L226.8 478.4M238.7 478.4L239.0 502.0L239.3 478.4M241.2 478.4L241.5 500.0L241.8 478.4M243.2 478.4L243.5 498.0L243.8 478.4M246.2 478.4L246.5 500.0L246.8 478.4M248.7 478.4L249.0 501.0L249.3 478.4M250.8 478.4L251.2 459.5L251.8 459.5L252.2 478.4M252.8 478.4L253.2 507.0L253.5 478.4M265.6 478.4L266.0 500.0L266.4 478.4M267.6 478.4L268.0 503.0L268.4 478.4M273.1 478.4L273.5 498.0L273.9 478.4M275.6 478.4L276.0 500.0L276.4 478.4M278.1 478.4L278.5 503.0L278.9 478.4M291.6 478.4L292.0 502.0L292.4 478.4M292.8 478.4L293.2 504.0L293.6 478.4M294.2 478.4L294.6 503.0L295.0 478.4M300.4 478.4L300.8 498.0L301.2 478.4M303.1 478.4L303.5 500.0L303.9 478.4M305.1 478.4L305.5 503.0L305.9 478.4M320.8 478.4L321.2 462.0L321.8 462.0L322.2 478.4M319.6 478.4L320.0 500.0L320.4 478.4M323.1 478.4L323.5 498.0L323.9 478.4M331.1 478.4L331.5 502.0L331.9 478.4M333.1 478.4L333.5 503.0L333.9 478.4M336.2 478.4L336.8 461.0L337.2 461.0L337.8 478.4M335.1 478.4L335.5 500.0L335.9 478.4M338.6 478.4L339.0 503.0L339.4 478.4M340.6 478.4L341.0 500.0L341.4 478.4M355.6 478.4L356.0 500.0L356.4 478.4M359.1 478.4L359.5 498.0L359.9 478.4M361.6 478.4L362.0 500.0L362.4 478.4M365.6 478.4L366.0 502.0L366.4 478.4M367.4 478.4L367.8 504.0L368.2 478.4M382.6 478.4L383.0 500.0L383.4 478.4M387.6 478.4L388.0 500.0L388.4 478.4M398.6 478.4L399.0 502.0L399.4 478.4M401.1 478.4L401.5 504.0L401.9 478.4M416.1 478.4L416.5 503.0L416.9 478.4M417.6 478.4L418.0 500.0L418.4 478.4M425.1 478.4L425.5 502.0L425.9 478.4M426.6 478.4L427.0 500.0L427.4 478.4M430.9 478.4L431.4 471.0L431.9 471.0L432.4 478.4M431.6 478.4L432.0 500.0L432.4 478.4M433.1 478.4L433.5 502.0L433.9 478.4M450.8 478.4L451.2 469.0L451.8 469.0L452.2 478.4M449.6 478.4L450.0 500.0L450.4 478.4M452.6 478.4L453.0 502.0L453.4 478.4M455.6 478.4L456.0 500.0L456.4 478.4M459.6 478.4L460.0 500.0L460.4 478.4M462.1 478.4L462.5 503.0L462.9 478.4M464.1 478.4L464.5 500.0L464.9 478.4M482.3 478.4L482.7 509.0L483.1 478.4M480.1 478.4L480.5 500.0L480.9 478.4M495.6 478.4L496.0 500.0L496.4 478.4M498.1 478.4L498.5 503.0L498.9 478.4M499.6 478.4L500.0 498.0L500.4 478.4M517.1 478.4L517.5 500.0L517.9 478.4M518.6 478.4L519.0 502.0L519.4 478.4M526.8 467.0L526.8 478.4M527.7 466.3L527.7 478.4M528.5 465.7L528.5 478.4M529.4 465.0L529.4 478.4M554.5 478.4L555.0 470.0L555.5 470.0L556.0 478.4M551.6 478.4L552.0 500.0L552.4 478.4M553.6 478.4L554.0 498.0L554.4 478.4M556.6 478.4L557.0 500.0L557.4 478.4M565.6 478.4L566.0 500.0L566.4 478.4M568.1 478.4L568.5 502.0L568.9 478.4M570.1 478.4L570.5 500.0L570.9 478.4M589.6 478.4L590.0 503.0L590.4 478.4M591.1 478.4L591.5 500.0L591.9 478.4M597.1 478.4L597.5 499.0L597.9 478.4M627.2 478.4L627.8 462.5L628.2 462.5L628.8 478.4M626.1 478.4L626.5 500.0L626.9 478.4M629.6 478.4L630.0 498.0L630.4 478.4M648.1 478.4L648.5 503.0L648.9 478.4M673.6 478.4L674.0 500.0L674.4 478.4M675.6 478.4L676.0 498.0L676.4 478.4M648.6 478.4L649.4 513.4L650.2 513.4L650.8 478.4M530.9 478.4L531.8 367.0L532.6 478.4M604.9 136.0L604.9 478.4M643.4 308.0L643.4 478.4M644.2 308.5L644.2 478.4M645.0 333.0L645.4 478.4M690.6 330.0L691.4 478.4M702.7 218.0L702.7 300.0M703.2 218.0L703.2 300.0M691.4 470.0L691.6 492.0L692.2 478.4M727.2 465.0L727.6 499.0L728.0 465.0M733.9 465.0L734.2 488.0L734.6 465.0M725.9 465.0L726.2 500.0L726.6 465.0M736.4 465.0L737.6 440.0L739.0 465.0"/>
<path stroke="#8c564b" d="M709.5 467.3L711.0 465.6L712.5 464.7L714.0 465.3L715.5 467.2L717.0 464.6L718.5 463.8L720.0 464.4L721.5 462.9L723.0 464.0L724.5 464.8L726.0 462.8L727.5 463.5L729.0 462.8L730.5 465.0L732.0 462.8L733.5 464.9L735.0 466.1L736.5 465.0"/>
<path stroke="#7f7f7f" d="M167.3 482.4L168.8 482.7L170.3 476.5L171.8 479.7L173.3 481.5L174.8 483.5L176.3 477.2L177.8 478.0L179.3 476.3L180.8 473.8L182.3 475.6L183.8 477.0L185.3 479.1L186.8 478.2L188.3 478.1L189.8 476.9L191.3 481.0L192.8 481.1L194.3 480.4L195.8 475.7L197.3 478.6L198.8 475.0L200.3 480.2L201.8 478.0L203.3 476.5L204.8 473.4L206.3 472.6L207.8 478.8L209.3 478.4L210.8 481.3L212.3 479.5L213.8 477.8L215.3 482.4L216.8 474.8L218.3 480.3L219.8 478.5L221.3 475.8L222.8 478.8L224.3 480.6L225.8 476.7L227.3 475.7L228.8 477.4L230.3 477.7L231.8 479.5L233.3 480.7L234.8 480.6L236.3 478.1L237.8 479.7L239.3 479.7L240.8 479.6L242.3 479.7L243.8 482.5L245.3 481.2L246.8 482.7L248.3 476.4L249.8 478.2L251.3 478.1L252.8 481.2L254.3 482.0L255.8 479.9L257.3 477.9L258.8 478.0L260.3 482.0L261.8 478.9L263.3 478.0L264.8 479.1L266.3 480.0L267.8 479.2L269.3 475.0L270.8 479.9L272.3 479.4L273.8 475.6L275.3 476.7L276.8 477.9L278.3 477.4L279.8 478.8L281.3 476.2L282.8 477.4L284.3 482.6L285.8 480.1L287.3 479.6L288.8 476.6L290.3 476.4L291.8 480.0L293.3 479.3L294.8 478.5L296.3 478.0L297.8 478.3L299.3 478.3L300.8 478.2L302.3 475.6L303.8 472.1L305.3 475.8L306.8 479.5L308.3 479.5L309.8 481.0L311.3 477.6L312.8 477.3L314.3 479.2L315.8 480.1L317.3 479.1L318.8 478.4L320.3 479.2L321.8 478.7L323.3 476.4L324.8 478.4L326.3 476.6L327.8 480.3L329.3 477.7L330.8 477.1L332.3 477.3L333.8 481.6L335.3 477.8L336.8 477.7L338.3 478.5L339.8 478.4L341.3 476.5L342.8 477.5L344.3 480.6L345.8 482.2L347.3 482.1L348.8 479.5L350.3 475.6L351.8 475.0L353.3 476.7L354.8 479.8L356.3 481.6L357.8 479.1L359.3 477.6L360.8 479.3L362.3 479.0L363.8 477.2L365.3 477.8L366.8 478.7L368.3 478.7L369.8 478.8L371.3 475.7L372.8 480.1L374.3 477.2L375.8 475.8L377.3 480.5L378.8 477.1L380.3 474.4L381.8 477.2L383.3 479.4L384.8 480.7L386.3 480.5L387.8 477.7L389.3 479.4L390.8 480.5L392.3 480.1L393.8 477.3L395.3 479.8L396.8 478.6L398.3 478.9L399.8 479.9L401.3 478.7L402.8 476.3L404.3 476.5L405.8 476.0L407.3 479.6L408.8 478.1L410.3 476.8L411.8 480.8L413.3 478.4L414.8 480.3L416.3 480.1L417.8 481.2L419.3 480.3L420.8 482.8L422.3 478.9L423.8 478.1L425.3 477.7L426.8 477.7L428.3 479.6L429.8 477.8L431.3 475.5L432.8 476.4L434.3 477.7L435.8 477.7L437.3 474.2L438.8 478.5L440.3 476.0L441.8 475.3L443.3 478.7L444.8 480.0L446.3 476.0L447.8 477.4L449.3 477.5L450.8 479.9L452.3 476.0L453.8 476.2L455.3 479.2L456.8 478.1L458.3 476.4L459.8 476.8L461.3 480.0L462.8 478.9L464.3 474.4L465.8 477.7L467.3 477.3L468.8 478.7L470.3 480.4L471.8 478.0L473.3 479.0L474.8 482.3L476.3 478.0L477.8 476.2L479.3 481.3L480.8 479.8L482.3 479.9L483.8 481.2L485.3 479.1L486.8 478.4L488.3 479.0L489.8 475.7L491.3 478.0L492.8 479.6L494.3 477.7L495.8 479.8L497.3 478.0L498.8 478.6L500.3 475.1L501.8 477.4L503.3 479.0L504.8 478.9L506.3 478.1L507.8 479.1L509.3 481.3L510.8 480.4L512.3 477.4L513.8 482.1L515.3 479.3L516.8 478.0L518.3 479.8L519.8 480.5L521.3 475.8L522.8 476.5L524.3 477.1L525.8 477.7L527.3 477.4L528.8 476.4L530.3 474.8L531.8 478.1M537.2 480.9L538.7 480.7L540.2 478.9L541.7 478.1L543.2 477.4L544.7 479.3L546.2 478.7L547.7 479.5L549.2 478.8L550.7 478.5L552.2 479.3L553.7 480.0L555.2 477.3L556.7 477.7L558.2 480.3L559.7 476.9L561.2 478.8L562.7 477.2L564.2 479.8L565.7 479.0L567.2 478.4L568.7 474.4L570.2 477.1L571.7 481.6L573.2 477.8L574.7 479.9L576.2 480.1L577.7 478.4L579.2 475.4L580.7 479.0L582.2 471.5L583.7 477.7L585.2 480.9L586.7 481.1L588.2 479.6L589.7 477.0L591.2 478.8L592.7 475.6L594.2 482.3L595.7 476.9L597.2 478.8L598.7 477.7L600.2 478.2L601.7 481.7M606.5 476.8L608.0 478.3L609.5 483.2L611.0 479.9L612.5 479.8L614.0 482.9L615.5 480.7L617.0 482.8L618.5 481.2L620.0 478.5L621.5 480.2L623.0 480.6L624.5 475.1L626.0 477.5L627.5 481.8L629.0 479.8L630.5 479.4L632.0 479.2L633.5 479.6L635.0 477.2L636.5 477.5L638.0 478.0L639.5 481.5L641.0 480.7M646.5 477.8L648.0 475.3L649.5 476.6L651.0 474.3L652.5 475.4L654.0 478.4L655.5 480.3L657.0 479.4L658.5 477.1L660.0 478.2L661.5 476.5L663.0 478.1L664.5 478.0L666.0 479.7L667.5 477.6L669.0 478.2L670.5 477.8L672.0 479.0L673.5 483.5L675.0 479.4L676.5 482.7L678.0 478.4L679.5 478.5L681.0 475.6L682.5 481.4L684.0 477.1L685.5 479.0M167.3 471.5L168.8 470.2L170.3 481.0L171.8 485.2L173.3 475.3L174.8 476.9L176.3 484.5L177.8 479.9L179.3 475.5L180.8 476.8L182.3 478.4L183.8 476.4L185.3 474.7L186.8 479.6L188.3 480.7L189.8 475.5L191.3 476.4L192.8 475.4L194.3 474.5L195.8 473.2L197.3 482.0L198.8 476.8L200.3 480.4L201.8 477.3L203.3 477.8L204.8 479.5L206.3 481.4L207.8 481.0L209.3 480.5L210.8 477.5L212.3 474.9L213.8 472.9L215.3 475.5L216.8 476.6L218.3 476.8L219.8 477.4L221.3 478.5L222.8 476.3L224.3 476.9L225.8 478.0L227.3 480.3L228.8 479.5L230.3 482.8L231.8 481.2L233.3 478.6L234.8 476.9L236.3 477.6L237.8 477.0L239.3 476.2L240.8 477.0L242.3 476.3L243.8 478.8L245.3 480.6L246.8 479.2L248.3 478.0L249.8 478.1L251.3 480.6L252.8 481.1L254.3 480.3L255.8 478.9L257.3 479.1L258.8 480.3L260.3 476.6L261.8 478.6L263.3 482.0L264.8 476.3L266.3 477.9L267.8 476.2L269.3 479.6L270.8 479.1L272.3 478.5L273.8 479.3L275.3 480.1L276.8 480.0L278.3 479.5L279.8 477.6L281.3 478.9L282.8 479.6L284.3 475.8L285.8 480.9L287.3 476.7L288.8 476.6L290.3 477.5L291.8 480.9L293.3 477.0L294.8 478.8L296.3 480.5L297.8 478.9L299.3 481.0L300.8 478.8L302.3 477.7L303.8 479.0L305.3 478.9L306.8 479.8L308.3 475.3L309.8 478.5L311.3 482.2L312.8 480.8L314.3 480.5L315.8 482.3L317.3 481.5L318.8 481.9L320.3 481.9L321.8 480.2L323.3 481.2L324.8 476.4L326.3 480.7L327.8 477.5L329.3 477.9L330.8 476.7L332.3 478.2L333.8 480.8L335.3 479.2L336.8 476.0L338.3 476.0L339.8 473.6L341.3 476.6L342.8 475.7L344.3 477.7L345.8 476.6L347.3 474.7L348.8 479.8L350.3 482.1L351.8 483.1L353.3 476.8L354.8 478.9L356.3 476.6L357.8 478.9L359.3 476.3L360.8 475.9L362.3 478.8L363.8 477.2L365.3 477.8L366.8 476.9L368.3 478.3L369.8 477.2L371.3 477.5L372.8 476.0L374.3 474.7L375.8 479.3L377.3 477.2L378.8 477.2L380.3 478.4L381.8 477.6L383.3 477.6L384.8 478.6L386.3 478.6L387.8 481.5L389.3 478.6L390.8 481.9L392.3 482.3L393.8 479.1L395.3 476.6L396.8 477.6L398.3 478.1L399.8 476.9L401.3 476.7L402.8 479.1L404.3 479.7L405.8 479.7L407.3 477.9L408.8 479.2L410.3 479.6L411.8 479.8L413.3 481.4L414.8 479.3L416.3 479.6L417.8 475.4L419.3 476.4L420.8 481.4L422.3 479.9L423.8 478.7L425.3 478.3L426.8 477.6L428.3 477.0L429.8 476.6L431.3 478.7L432.8 480.0L434.3 480.1L435.8 479.0L437.3 476.5L438.8 479.0L440.3 479.1L441.8 476.6L443.3 481.2L444.8 475.7L446.3 477.7L447.8 477.6L449.3 479.0L450.8 477.8L452.3 479.9L453.8 480.6L455.3 479.3L456.8 477.1L458.3 478.4L459.8 479.1L461.3 480.0L462.8 479.8L464.3 476.6L465.8 478.1L467.3 476.4L468.8 480.1L470.3 478.7L471.8 477.8L473.3 477.9L474.8 479.0L476.3 480.7L477.8 481.9L479.3 482.9L480.8 480.9L482.3 481.8L483.8 479.4L485.3 479.4L486.8 478.1L488.3 477.6L489.8 480.5L491.3 479.5L492.8 478.0L494.3 478.9L495.8 476.8L497.3 477.2L498.8 474.9L500.3 479.0L501.8 476.2L503.3 476.6L504.8 480.2L506.3 478.2L507.8 480.9L509.3 476.7L510.8 482.9L512.3 482.0L513.8 477.4L515.3 478.4L516.8 479.3L518.3 472.3L519.8 476.5L521.3 478.2L522.8 476.9L524.3 477.8L525.8 477.8L527.3 476.5L528.8 478.1L530.3 476.1L531.8 480.4M537.2 477.3L538.7 480.3L540.2 477.4L541.7 478.6L543.2 480.3L544.7 475.6L546.2 479.0L547.7 481.5L549.2 480.3L550.7 477.3L552.2 480.4L553.7 478.3L555.2 479.1L556.7 479.1L558.2 480.7L559.7 478.7L561.2 475.4L562.7 478.4L564.2 479.1L565.7 477.1L567.2 478.5L568.7 477.3L570.2 476.0L571.7 476.7L573.2 473.0L574.7 476.9L576.2 477.6L577.7 481.5L579.2 483.4L580.7 480.2L582.2 473.5L583.7 478.4L585.2 480.5L586.7 480.0L588.2 476.4L589.7 475.8L591.2 479.2L592.7 478.6L594.2 479.9L595.7 476.8L597.2 476.5L598.7 479.1L600.2 475.3L601.7 476.1M606.5 480.9L608.0 480.2L609.5 481.2L611.0 476.8L612.5 480.0L614.0 479.6L615.5 478.4L617.0 478.9L618.5 475.8L620.0 474.6L621.5 477.4L623.0 476.7L624.5 478.6L626.0 483.2L627.5 481.4L629.0 478.5L630.5 479.7L632.0 479.0L633.5 478.3L635.0 479.2L636.5 478.2L638.0 478.3L639.5 478.7L641.0 477.1M646.5 479.4L648.0 481.3L649.5 475.3L651.0 477.5L652.5 481.1L654.0 477.2L655.5 478.4L657.0 478.3L658.5 479.3L660.0 478.3L661.5 478.9L663.0 479.4L664.5 476.6L666.0 477.6L667.5 477.0L669.0 477.7L670.5 477.1L672.0 476.6L673.5 478.5L675.0 477.8L676.5 475.5L678.0 478.2L679.5 477.1L681.0 478.4L682.5 481.6L684.0 481.1L685.5 476.3M167.3 472.3L168.8 477.0L170.3 480.2L171.8 477.7L173.3 476.2L174.8 479.9L176.3 479.9L177.8 479.2L179.3 477.7L180.8 472.4L182.3 473.8L183.8 476.2L185.3 475.6L186.8 472.6L188.3 477.3L189.8 474.9L191.3 475.6L192.8 473.5L194.3 473.2L195.8 479.4L197.3 480.1L198.8 485.7L200.3 480.3L201.8 482.9L203.3 480.4L204.8 480.5L206.3 474.1L207.8 472.6L209.3 478.3L210.8 480.1L212.3 479.7L213.8 473.5L215.3 474.3L216.8 478.9L218.3 478.9L219.8 476.2L221.3 477.4L222.8 477.7L224.3 484.1L225.8 480.5L227.3 476.5L228.8 478.0L230.3 478.6L231.8 480.8L233.3 476.9L234.8 476.3L236.3 474.5L237.8 474.4L239.3 476.8L240.8 481.2L242.3 478.8L243.8 475.9L245.3 477.7L246.8 476.1L248.3 475.4L249.8 479.1L251.3 482.0L252.8 479.9L254.3 478.9L255.8 476.9L257.3 477.8L258.8 476.5L260.3 476.1L261.8 475.8L263.3 477.3L264.8 475.7L266.3 478.3L267.8 476.3L269.3 478.1L270.8 482.1L272.3 477.6L273.8 474.3L275.3 475.6L276.8 478.4L278.3 477.2L279.8 478.8L281.3 478.7L282.8 480.4L284.3 480.7L285.8 480.1L287.3 475.2L288.8 477.1L290.3 475.5L291.8 475.5L293.3 476.5L294.8 477.4L296.3 480.5L297.8 480.6L299.3 475.5L300.8 477.1L302.3 479.4L303.8 477.4L305.3 480.4L306.8 478.6L308.3 480.1L309.8 481.8L311.3 481.2L312.8 480.6L314.3 481.5L315.8 477.8L317.3 480.7L318.8 479.3L320.3 481.8L321.8 481.6L323.3 483.4L324.8 480.1L326.3 477.9L327.8 477.7L329.3 475.0L330.8 479.1L332.3 473.1L333.8 477.4L335.3 475.3L336.8 476.1L338.3 477.5L339.8 475.0L341.3 476.7L342.8 480.7L344.3 481.5L345.8 480.8L347.3 482.9L348.8 480.3L350.3 480.6L351.8 478.3L353.3 475.4L354.8 476.0L356.3 476.7L357.8 479.0L359.3 479.1L360.8 475.5L362.3 478.1L363.8 482.0L365.3 477.2L366.8 477.9L368.3 480.7L369.8 479.8L371.3 475.5L372.8 480.1L374.3 476.3L375.8 477.3L377.3 478.6L378.8 479.3L380.3 473.3L381.8 478.1L383.3 475.3L384.8 476.7L386.3 475.6L387.8 475.8L389.3 477.9L390.8 480.4L392.3 477.8L393.8 477.7L395.3 474.9L396.8 479.7L398.3 478.4L399.8 476.0L401.3 477.4L402.8 477.0L404.3 478.1L405.8 479.2L407.3 477.0L408.8 478.7L410.3 484.0L411.8 480.3L413.3 477.9L414.8 479.5L416.3 479.1L417.8 477.8L419.3 477.6L420.8 480.9L422.3 480.0L423.8 480.2L425.3 480.6L426.8 481.3L428.3 480.6L429.8 476.4L431.3 480.4L432.8 479.0L434.3 482.2L435.8 481.1L437.3 481.9L438.8 478.8L440.3 478.2L441.8 477.7L443.3 480.4L444.8 478.8L446.3 479.5L447.8 475.8L449.3 477.5L450.8 478.7L452.3 477.9L453.8 476.1L455.3 475.0L456.8 479.3L458.3 476.0L459.8 479.1L461.3 479.1L462.8 475.9L464.3 476.6L465.8 480.6L467.3 482.2L468.8 480.3L470.3 477.2L471.8 476.1L473.3 479.4L474.8 476.5L476.3 479.6L477.8 475.3L479.3 479.2L480.8 479.0L482.3 479.5L483.8 481.4L485.3 477.2L486.8 479.1L488.3 475.6L489.8 478.5L491.3 479.7L492.8 476.7L494.3 475.2L495.8 475.9L497.3 480.3L498.8 479.8L500.3 478.3L501.8 477.7L503.3 476.6L504.8 479.4L506.3 476.0L507.8 478.2L509.3 476.0L510.8 474.6L512.3 477.4L513.8 475.3L515.3 478.7L516.8 477.9L518.3 477.9L519.8 477.5L521.3 477.4L522.8 478.1L524.3 481.3L525.8 476.2L527.3 476.9L528.8 478.1L530.3 480.1L531.8 478.9M537.2 480.1L538.7 484.2L540.2 476.8L541.7 476.9L543.2 477.9L544.7 474.7L546.2 473.7L547.7 475.2L549.2 477.5L550.7 479.9L552.2 476.4L553.7 482.8L555.2 479.9L556.7 477.2L558.2 475.1L559.7 476.1L561.2 476.8L562.7 474.0L564.2 479.1L565.7 474.9L567.2 475.0L568.7 477.2L570.2 476.9L571.7 475.1L573.2 476.1L574.7 477.1L576.2 479.4L577.7 479.3L579.2 479.4L580.7 478.0L582.2 479.7L583.7 478.9L585.2 474.0L586.7 478.7L588.2 478.4L589.7 477.4L591.2 479.9L592.7 477.5L594.2 478.6L595.7 476.1L597.2 478.0L598.7 478.4L600.2 479.1L601.7 478.3M606.5 474.2L608.0 475.9L609.5 477.9L611.0 479.0L612.5 477.1L614.0 477.0L615.5 474.9L617.0 479.6L618.5 476.5L620.0 479.1L621.5 479.5L623.0 478.9L624.5 477.8L626.0 477.8L627.5 478.6L629.0 477.7L630.5 477.5L632.0 480.2L633.5 479.6L635.0 479.2L636.5 477.9L638.0 483.5L639.5 483.1L641.0 479.0M646.5 475.9L648.0 476.7L649.5 479.2L651.0 478.0L652.5 482.6L654.0 475.5L655.5 478.3L657.0 476.2L658.5 479.9L660.0 479.5L661.5 483.1L663.0 482.2L664.5 479.7L666.0 479.3L667.5 478.5L669.0 477.7L670.5 476.2L672.0 477.9L673.5 475.3L675.0 476.6L676.5 477.5L678.0 477.5L679.5 477.9L681.0 479.6L682.5 482.3L684.0 478.1L685.5 479.9M167.3 471.5L168.8 469.3L170.3 474.7L171.8 483.7L173.3 474.7L174.8 477.1L176.3 481.7L177.8 483.1L179.3 477.2L180.8 479.5L182.3 476.4L183.8 480.1L185.3 483.6L186.8 486.6L188.3 483.8L189.8 480.9L191.3 476.6L192.8 480.0L194.3 481.1L195.8 479.5L197.3 476.3L198.8 479.7L200.3 477.9L201.8 477.3L203.3 479.2L204.8 480.4L206.3 480.4L207.8 477.9L209.3 477.7L210.8 477.3L212.3 479.2L213.8 479.5L215.3 478.3L216.8 478.4L218.3 478.5L219.8 477.7L221.3 477.2L222.8 476.2L224.3 473.8L225.8 474.6L227.3 476.1L228.8 478.5L230.3 479.3L231.8 478.9L233.3 478.3L234.8 476.9L236.3 478.9L237.8 477.5L239.3 477.5L240.8 481.8L242.3 478.6L243.8 478.8L245.3 480.2L246.8 476.8L248.3 478.1L249.8 480.4L251.3 479.0L252.8 478.0L254.3 477.4L255.8 478.7L257.3 480.5L258.8 480.0L260.3 478.5L261.8 480.0L263.3 477.2L264.8 479.3L266.3 481.3L267.8 480.9L269.3 477.5L270.8 480.6L272.3 477.5L273.8 477.8L275.3 473.7L276.8 480.4L278.3 477.6L279.8 475.5L281.3 477.4L282.8 476.7L284.3 478.3L285.8 476.0L287.3 480.2L288.8 478.3L290.3 479.7L291.8 476.4L293.3 477.8L294.8 478.9L296.3 479.1L297.8 480.6L299.3 478.6L300.8 477.0L302.3 476.8L303.8 480.5L305.3 479.4L306.8 478.5L308.3 479.4L309.8 476.4L311.3 479.7L312.8 479.9L314.3 476.5L315.8 477.4L317.3 478.6L318.8 477.4L320.3 476.2L321.8 477.2L323.3 476.8L324.8 479.3L326.3 479.7L327.8 480.6L329.3 477.0L330.8 479.0L332.3 476.3L333.8 479.1L335.3 478.2L336.8 477.4L338.3 478.4L339.8 479.9L341.3 477.7L342.8 477.8L344.3 477.7L345.8 478.2L347.3 480.3L348.8 479.2L350.3 479.6L351.8 475.5L353.3 478.4L354.8 477.9L356.3 481.2L357.8 479.1L359.3 477.9L360.8 478.6L362.3 479.0L363.8 477.9L365.3 475.7L366.8 477.6L368.3 479.3L369.8 476.8L371.3 479.9L372.8 479.5L374.3 477.0L375.8 476.6L377.3 476.4L378.8 478.9L380.3 476.3L381.8 478.9L383.3 477.7L384.8 477.5L386.3 476.9L387.8 479.2L389.3 480.3L390.8 480.9L392.3 479.2L393.8 476.9L395.3 477.2L396.8 477.8L398.3 477.8L399.8 478.0L401.3 478.6L402.8 475.1L404.3 476.1L405.8 483.1L407.3 481.5L408.8 480.7L410.3 476.2L411.8 476.3L413.3 478.0L414.8 479.4L416.3 478.7L417.8 479.6L419.3 479.8L420.8 480.0L422.3 482.4L423.8 476.0L425.3 476.2L426.8 473.3L428.3 475.8L429.8 478.4L431.3 478.7L432.8 477.9L434.3 477.6L435.8 476.1L437.3 477.8L438.8 477.8L440.3 477.8L441.8 476.9L443.3 477.0L444.8 477.6L446.3 475.3L447.8 477.3L449.3 478.1L450.8 478.5L452.3 478.2L453.8 479.4L455.3 481.2L456.8 479.1L458.3 475.9L459.8 475.3L461.3 476.2L462.8 479.2L464.3 477.5L465.8 476.9L467.3 475.6L468.8 476.6L470.3 479.5L471.8 480.9L473.3 480.0L474.8 476.3L476.3 480.0L477.8 478.0L479.3 480.0L480.8 482.5L482.3 477.4L483.8 476.6L485.3 477.5L486.8 479.4L488.3 479.7L489.8 476.7L491.3 476.5L492.8 476.8L494.3 474.9L495.8 479.5L497.3 478.8L498.8 478.9L500.3 477.3L501.8 476.7L503.3 480.3L504.8 482.7L506.3 482.9L507.8 478.7L509.3 477.0L510.8 478.9L512.3 479.9L513.8 476.4L515.3 477.9L516.8 477.2L518.3 480.3L519.8 477.3L521.3 481.8L522.8 478.6L524.3 473.4L525.8 479.1L527.3 477.7L528.8 477.8L530.3 477.5L531.8 478.1M537.2 478.1L538.7 478.7L540.2 476.0L541.7 474.9L543.2 477.1L544.7 480.6L546.2 479.8L547.7 475.5L549.2 482.0L550.7 479.3L552.2 477.7L553.7 475.1L555.2 478.6L556.7 479.3L558.2 478.5L559.7 478.8L561.2 477.8L562.7 477.6L564.2 479.4L565.7 477.5L567.2 479.6L568.7 479.0L570.2 481.5L571.7 478.8L573.2 480.2L574.7 475.2L576.2 479.2L577.7 478.1L579.2 478.0L580.7 479.7L582.2 479.8L583.7 479.8L585.2 483.0L586.7 481.7L588.2 478.7L589.7 477.6L591.2 477.9L592.7 480.6L594.2 477.9L595.7 480.2L597.2 476.5L598.7 478.7L600.2 482.6L601.7 479.2M606.5 478.9L608.0 480.1L609.5 476.8L611.0 481.3L612.5 479.2L614.0 477.1L615.5 477.5L617.0 475.7L618.5 479.1L620.0 476.9L621.5 477.7L623.0 480.6L624.5 476.7L626.0 475.5L627.5 474.6L629.0 477.8L630.5 478.6L632.0 477.8L633.5 475.5L635.0 482.1L636.5 479.1L638.0 480.8L639.5 477.2L641.0 475.5M646.5 478.4L648.0 479.3L649.5 475.9L651.0 477.6L652.5 474.7L654.0 476.4L655.5 478.3L657.0 477.1L658.5 478.0L660.0 479.7L661.5 476.9L663.0 480.4L664.5 481.0L666.0 479.5L667.5 478.5L669.0 476.6L670.5 479.6L672.0 480.9L673.5 482.3L675.0 476.3L676.5 477.7L678.0 474.2L679.5 475.0L681.0 481.4L682.5 477.1L684.0 477.3L685.5 480.1M163.0 513.4L165.8 513.4L167.3 478.4M709.5 465.8L710.9 467.7L712.3 466.5L713.7 464.2L715.1 465.6L716.5 464.7L717.9 465.4L719.3 465.5L720.7 464.4L722.1 465.5L723.5 466.5L724.9 464.5L726.3 465.4L727.7 465.2L729.1 466.1L730.5 465.7L731.9 464.7L733.3 466.4L734.7 466.4L736.1 463.6L737.5 463.4M709.5 465.3L710.9 464.4L712.3 465.5L713.7 464.3L715.1 465.2L716.5 464.6L717.9 465.6L719.3 466.8L720.7 466.8L722.1 466.7L723.5 466.1L724.9 465.9L726.3 464.8L727.7 464.3L729.1 465.8L730.5 464.6L731.9 464.6L733.3 465.1L734.7 463.4L736.1 462.3L737.5 463.9M709.5 465.7L710.9 465.7L712.3 465.8L713.7 466.3L715.1 465.6L716.5 463.6L717.9 464.3L719.3 465.1L720.7 469.0L722.1 470.0L723.5 467.2L724.9 466.2L726.3 465.4L727.7 468.0L729.1 464.8L730.5 461.0L731.9 464.9L733.3 465.7L734.7 464.6L736.1 463.7L737.5 466.9"/>
<path stroke="#7f7f7f" d="M178.3 478.4L180.0 492.0L181.7 478.4M192.3 478.4L194.0 490.0L195.7 478.4M208.0 478.4L209.5 493.0L211.0 478.4M363.8 478.4L364.2 461.0L364.8 461.0L365.2 478.4M394.8 478.4L395.2 500.0L395.6 478.4M438.2 478.4L438.8 466.5L439.2 466.5L439.8 478.4M492.8 478.4L493.2 466.0L493.8 466.0L494.2 478.4M567.2 478.4L567.8 468.0L568.2 468.0L568.8 478.4M532.9 291.0L532.9 481.0M533.8 289.2L533.8 481.0M534.7 287.3L534.7 481.0M535.6 285.5L535.6 481.0M603.3 142.5L603.3 478.4M604.2 142.2L604.2 478.4M605.1 142.0L605.1 478.4M602.4 300.0L601.9 360.0L601.8 478.4M605.8 310.0L607.2 345.0L608.2 425.0L610.2 478.4M605.6 320.0L606.6 420.0L607.6 478.4M605.8 330.0L607.4 430.0L608.8 478.4M602.6 340.0L601.4 440.0L601.2 478.4M642.3 371.0L642.3 478.4M643.3 369.7L643.3 478.4M644.4 368.3L644.4 478.4M645.4 367.0L645.4 478.4M687.2 319.0L687.2 478.4M688.0 317.7L688.0 478.4M688.9 316.3L688.9 478.4M689.7 315.0L689.7 478.4M690.2 370.0L691.0 478.4M696.4 305.0L696.4 478.4M697.0 303.5L697.0 478.4M697.6 302.0L697.6 478.4M702.0 233.0L702.0 305.0M703.1 233.0L703.1 305.0M695.6 323.0L695.6 478.4M696.6 322.8L696.6 478.4M697.6 322.7L697.6 478.4M698.6 322.5L698.6 478.4M699.6 322.3L699.6 478.4M700.6 322.2L700.6 478.4M701.6 322.0L701.6 478.4M701.4 301.0L701.4 330.0M701.2 301.0L701.2 330.0M705.3 287.0L705.3 368.0M704.2 287.0L704.2 368.0M705.8 287.5L705.8 368.0M706.8 287.3L706.8 368.0M707.7 287.2L707.7 368.0M708.7 287.0L708.7 368.0M707.6 361.0L707.6 440.0M708.5 361.0L708.5 440.0M709.3 361.0L709.3 440.0M709.0 430.0L709.6 464.5M707.8 430.0L709.0 464.0M690.6 478.4L691.6 491.5L692.4 478.4M696.0 478.0L696.0 488.5M702.0 478.0L702.0 488.5M734.8 447.0L734.8 465.0M735.6 446.5L735.6 465.0M736.6 465.0L737.8 384.0L739.6 381.5L740.8 470.0L741.6 497.0M737.6 465.0L738.7 388.0L740.2 440.0L741.2 497.0"/>
<path stroke="#bcbd22" d="M778.7 482.8L778.7 496.8M779.5 482.8L779.5 496.8M780.3 482.8L780.3 496.8M833.2 482.8L833.2 496.8M834.3 482.8L834.3 496.8"/>
<path stroke="#2ca02c" d="M762.7 482.8L762.7 496.8M763.8 482.8L763.8 496.8M784.7 482.8L784.7 496.8M785.5 482.8L785.5 496.8M786.3 482.8L786.3 496.8M803.7 482.8L803.7 496.8M804.3 482.8L804.3 496.8M816.2 482.8L816.2 496.8M817.3 482.8L817.3 496.8"/>
<path stroke="#d62728" d="M742.2 482.8L742.2 496.8M743.2 482.8L743.2 496.8M744.3 482.8L744.3 496.8M751.7 482.8L751.7 496.8M752.6 482.8L752.6 496.8M753.4 482.8L753.4 496.8M754.3 482.8L754.3 496.8M758.7 482.8L758.7 496.8M759.6 482.8L759.6 496.8M760.4 482.8L760.4 496.8M761.3 482.8L761.3 496.8M768.7 482.8L768.7 496.8M769.7 482.8L769.7 496.8M770.8 482.8L770.8 496.8M771.8 482.8L771.8 496.8M776.2 482.8L776.2 496.8M777.3 482.8L777.3 496.8M781.7 482.8L781.7 496.8M782.5 482.8L782.5 496.8M783.3 482.8L783.3 496.8M790.7 482.8L790.7 496.8M791.8 482.8L791.8 496.8M792.8 482.8L792.8 496.8M812.7 482.8L812.7 496.8M813.8 482.8L813.8 496.8M814.8 482.8L814.8 496.8M824.7 482.8L824.7 496.8M825.5 482.8L825.5 496.8M826.3 482.8L826.3 496.8M842.7 482.8L842.7 496.8M843.8 482.8L843.8 496.8M844.8 482.8L844.8 496.8M846.2 482.8L846.2 496.8M847.2 482.8L847.2 496.8M848.3 482.8L848.3 496.8M849.3 482.8L849.3 496.8M850.7 482.8L850.7 496.8M851.5 482.8L851.5 496.8M852.3 482.8L852.3 496.8M857.7 482.8L857.7 496.8M858.8 482.8L858.8 496.8M859.8 482.8L859.8 496.8"/>
<path stroke="#9467bd" d="M818.7 482.8L818.7 496.8M819.8 482.8L819.8 496.8M820.8 482.8L820.8 496.8M861.2 482.8L861.2 496.8M862.2 482.8L862.2 496.8M863.3 482.8L863.3 496.8M864.3 482.8L864.3 496.8M864.4 482.7L864.8 496.3"/>
<path stroke="#8c564b" d="M749.2 482.8L749.2 496.8M750.3 482.8L750.3 496.8M755.7 482.8L755.7 496.8M756.5 482.8L756.5 496.8M757.3 482.8L757.3 496.8M765.2 482.8L765.2 496.8M766.2 482.8L766.2 496.8M767.3 482.8L767.3 496.8M787.7 482.8L787.7 496.8M788.5 482.8L788.5 496.8M789.3 482.8L789.3 496.8M794.2 482.8L794.2 496.8M795.2 482.8L795.2 496.8M796.3 482.8L796.3 496.8M800.7 482.8L800.7 496.8M801.5 482.8L801.5 496.8M802.3 482.8L802.3 496.8"/>
<path stroke="#e377c2" d="M745.7 482.8L745.7 496.8M746.8 482.8L746.8 496.8M747.8 482.8L747.8 496.8M773.2 482.8L773.2 496.8M774.0 482.8L774.0 496.8M774.8 482.8L774.8 496.8M797.7 482.8L797.7 496.8M798.5 482.8L798.5 496.8M799.3 482.8L799.3 496.8M805.7 482.8L805.7 496.8M806.8 482.8L806.8 496.8M807.8 482.8L807.8 496.8M829.7 482.8L829.7 496.8M830.8 482.8L830.8 496.8M831.8 482.8L831.8 496.8M835.7 482.8L835.7 496.8M836.8 482.8L836.8 496.8M837.8 482.8L837.8 496.8M853.7 482.8L853.7 496.8M854.6 482.8L854.6 496.8M855.4 482.8L855.4 496.8M856.3 482.8L856.3 496.8"/>
<path stroke="#e377c2" d="M749.2 496.8L749.2 513.4M750.2 496.8L750.2 513.4M751.2 496.8L751.2 513.4M752.2 496.8L752.2 513.4M753.2 496.8L753.2 513.4"/>
<path stroke="#d62728" d="M772.3 496.8L772.3 513.4M772.6 496.8L772.6 513.4"/>
<path stroke="#ff7f0e" d="M774.1 496.8L774.1 513.4M774.1 496.8L774.1 513.4"/>
<path stroke="#2ca02c" d="M775.3 496.8L775.3 513.4M775.3 496.8L775.3 513.4"/>
<path stroke="#bcbd22" d="M776.5 496.8L776.5 513.4M776.5 496.8L776.5 513.4"/>
<path stroke="#e377c2" d="M778.1 496.8L778.1 513.4M778.4 496.8L778.4 513.4"/>
<path stroke="#8c564b" d="M780.1 496.8L780.1 513.4M780.1 496.8L780.1 513.4"/>
<path stroke="#1f77b4" d="M781.5 496.8L781.5 513.4M781.5 496.8L781.5 513.4"/>
<path stroke="#17becf" d="M783.0 496.8L783.0 513.4M783.8 496.8L783.8 513.4"/>
<path stroke="#e377c2" d="M785.1 496.8L785.1 513.4M785.1 496.8L785.1 513.4"/>
<path stroke="#ff7f0e" d="M786.6 496.8L786.6 513.4M787.2 496.8L787.2 513.4"/>
<path stroke="#d62728" d="M788.5 496.8L788.5 513.4M788.5 496.8L788.5 513.4"/>
<path stroke="#1f77b4" d="M789.8 496.8L789.8 513.4M790.9 496.8L790.9 513.4"/>
<path stroke="#7f7f7f" d="M796.5 496.8L796.5 513.4M797.0 496.8L797.0 513.4"/>
<path stroke="#2ca02c" d="M802.0 496.8L802.0 513.4M802.4 496.8L802.4 513.4"/>
<path stroke="#8c564b" d="M804.2 496.8L804.2 513.4M804.6 496.8L804.6 513.4"/>
<path stroke="#9467bd" d="M826.0 496.8L826.0 513.4M826.0 496.8L826.0 513.4"/>
<path stroke="#e377c2" d="M827.7 496.8L827.7 513.4M827.7 496.8L827.7 513.4"/>
<path stroke="#bcbd22" d="M829.0 496.8L829.0 513.4M829.0 496.8L829.0 513.4"/>
<path stroke="#2ca02c" d="M830.4 496.8L830.4 513.4M830.6 496.8L830.6 513.4"/>
<path stroke="#17becf" d="M833.0 496.8L833.0 513.4M833.0 496.8L833.0 513.4"/>
<path stroke="#e377c2" d="M834.3 496.8L834.3 513.4M834.3 496.8L834.3 513.4"/>
<path stroke="#ff7f0e" d="M836.1 496.8L836.1 513.4M836.1 496.8L836.1 513.4"/>
<path stroke="#8c564b" d="M843.2 496.8L843.2 513.4M844.2 496.8L844.2 513.4"/>
<path stroke="#17becf" d="M849.0 496.8L849.0 513.4M849.4 496.8L849.4 513.4"/>
<path stroke="#8c564b" d="M853.4 496.8L853.4 513.4M854.5 496.8L854.5 513.4M855.5 496.8L855.5 513.4M856.6 496.8L856.6 513.4"/>
<path stroke="#7f7f7f" d="M863.2 496.8L863.2 513.4M863.6 496.8L863.6 513.4"/>
<path stroke="#7f7f7f" d="M809.2 482.8L809.2 496.8M810.2 482.8L810.2 496.8M811.3 482.8L811.3 496.8M822.2 482.8L822.2 496.8M823.3 482.8L823.3 496.8M827.7 482.8L827.7 496.8M828.3 482.8L828.3 496.8M839.2 482.8L839.2 496.8M840.2 482.8L840.2 496.8M841.3 482.8L841.3 496.8M741.6 496.8L863.8 496.8"/>
<path stroke="#7f7f7f" stroke-width="1.35" d="M745.9 496.8L745.9 482.2M750.4 496.8L750.4 482.2M754.6 496.8L754.6 482.2M759.1 496.8L759.1 482.2M763.3 496.8L763.3 482.2M767.8 496.8L767.8 482.2M772.3 496.8L772.3 482.2M776.8 496.8L776.8 482.2M781.3 496.8L781.3 482.2M785.2 496.8L785.2 482.2M789.4 496.8L789.4 482.2M793.3 496.8L793.3 482.2M797.8 496.8L797.8 482.2M801.7 496.8L801.7 482.2M805.6 496.8L805.6 482.2M809.5 496.8L809.5 482.2M813.7 496.8L813.7 482.2M817.9 496.8L817.9 482.2M821.8 496.8L821.8 482.2M826.0 496.8L826.0 482.2M830.5 496.8L830.5 482.2M834.4 496.8L834.4 482.2M838.9 496.8L838.9 482.2M842.8 496.8L842.8 482.2M846.7 496.8L846.7 482.2M851.2 496.8L851.2 482.2M855.1 496.8L855.1 482.2M859.3 496.8L859.3 482.2M863.5 496.8L863.5 482.2"/>
<path stroke="#7f7f7f" stroke-width="1.1" d="M742.5 482.2L863.5 482.2"/>
<path stroke="#977d85" d="M603.5 223.0L603.5 440.0M604.2 223.0L604.2 440.0M605.0 223.0L605.0 440.0M605.2 147.0L605.2 224.0M605.0 147.0L605.0 224.0"/>
<path stroke="#d62728" d="M536.2 478.4L537.4 389.0L538.5 500.0L539.6 478.4M606.2 448.0L606.6 489.0M644.2 363.5L644.4 366.0M693.0 458.5L693.2 466.0M706.6 266.0L706.8 285.0M698.2 472.0L700.0 488.0L700.4 474.0M838.6 498.0L839.4 501.0"/>
<path stroke="#8c564b" d="M702.8 465.0L703.3 486.0"/>
<path stroke="#e377c2" d="M605.6 438.0L606.0 452.0M703.4 304.0L703.6 481.0M774.5 488.0L775.5 496.0M806.0 486.0L807.5 496.0M829.5 488.0L831.5 496.0M854.0 486.0L856.0 496.0"/>
<path stroke="#2ca02c" d="M705.8 363.0L706.2 367.0M699.2 487.0L699.6 489.0M785.0 485.0L785.4 488.0"/>
<path stroke="#17becf" d="M606.8 489.0L607.2 496.0M705.1 428.0L705.0 435.0M855.8 484.5L856.2 485.5"/>
<path stroke="#bcbd22" d="M605.6 478.4L606.5 513.4L607.1 513.4L607.8 478.4M778.5 487.0L779.0 490.0"/>
<path stroke="#1f77b4" d="M533.6 470.0L534.9 417.0L535.4 513.4L536.4 513.4L537.0 482.0M534.9 420.0L535.0 510.0M707.0 262.5L707.1 264.0M695.9 490.0L696.1 513.4L696.5 513.4M701.9 490.0L702.1 513.4L702.5 513.4M840.5 479.6L840.5 482.5"/>
<path stroke="#7f7f7f" d="M252.9 500.0L253.3 508.0L253.7 500.0M292.8 499.0L293.1 505.5L293.4 499.0M534.5 231.0L534.5 237.5M533.5 248.0L533.5 290.0"/>
</g>
<path d="M185.5 534.5v4.9M300.5 534.5v4.9M416.5 534.5v4.9M532.5 534.5v4.9M648.5 534.5v4.9M763.5 534.5v4.9M879.5 534.5v4.9M125.5 513.5h-4.9M125.5 431.5h-4.9M125.5 349.5h-4.9M125.5 267.5h-4.9M125.5 184.5h-4.9M125.5 102.5h-4.9" stroke="#000" stroke-width="1.11" fill="none"/>
<rect x="125.5" y="72.5" width="775.0" height="462.0" fill="none" stroke="#000" stroke-width="1.11"/>
<text x="154.60" y="555.3" font-size="14.1" textLength="60.4" lengthAdjust="spacingAndGlyphs">15:50:24</text>
<text x="270.35" y="555.3" font-size="14.1" textLength="60.4" lengthAdjust="spacingAndGlyphs">16:04:48</text>
<text x="386.10" y="555.3" font-size="14.1" textLength="60.4" lengthAdjust="spacingAndGlyphs">16:19:12</text>
<text x="501.85" y="555.3" font-size="14.1" textLength="60.4" lengthAdjust="spacingAndGlyphs">16:33:36</text>
<text x="617.60" y="555.3" font-size="14.1" textLength="60.4" lengthAdjust="spacingAndGlyphs">16:48:00</text>
<text x="733.35" y="555.3" font-size="14.1" textLength="60.4" lengthAdjust="spacingAndGlyphs">17:02:24</text>
<text x="849.10" y="555.3" font-size="14.1" textLength="60.4" lengthAdjust="spacingAndGlyphs">17:16:48</text>
<text x="106.90" y="518.10" font-size="14.1" textLength="8.80" lengthAdjust="spacingAndGlyphs">0</text>
<text x="71.70" y="436.00" font-size="14.1" textLength="44.00" lengthAdjust="spacingAndGlyphs">10000</text>
<text x="71.70" y="353.90" font-size="14.1" textLength="44.00" lengthAdjust="spacingAndGlyphs">20000</text>
<text x="71.70" y="271.80" font-size="14.1" textLength="44.00" lengthAdjust="spacingAndGlyphs">30000</text>
<text x="71.70" y="189.70" font-size="14.1" textLength="44.00" lengthAdjust="spacingAndGlyphs">40000</text>
<text x="71.70" y="107.60" font-size="14.1" textLength="44.00" lengthAdjust="spacingAndGlyphs">50000</text>
<text x="497.3" y="574" font-size="14.1" textLength="30.6" lengthAdjust="spacingAndGlyphs">time</text>
<text transform="translate(62.4 332.2) rotate(-90)" font-size="14.1" textLength="55.6" lengthAdjust="spacingAndGlyphs">TXs/min</text>
<text x="306.1" y="63.8" font-size="16.9" textLength="254.2" lengthAdjust="spacingAndGlyphs">Rate of Transaction processing</text>
<text x="571.9" y="63.8" font-size="16.9" textLength="6.2" lengthAdjust="spacingAndGlyphs">-</text>
<text x="588.9" y="63.8" font-size="16.9" textLength="128.6" lengthAdjust="spacingAndGlyphs">v0.37.0-alpha.2</text>
</svg>
</body></html>
